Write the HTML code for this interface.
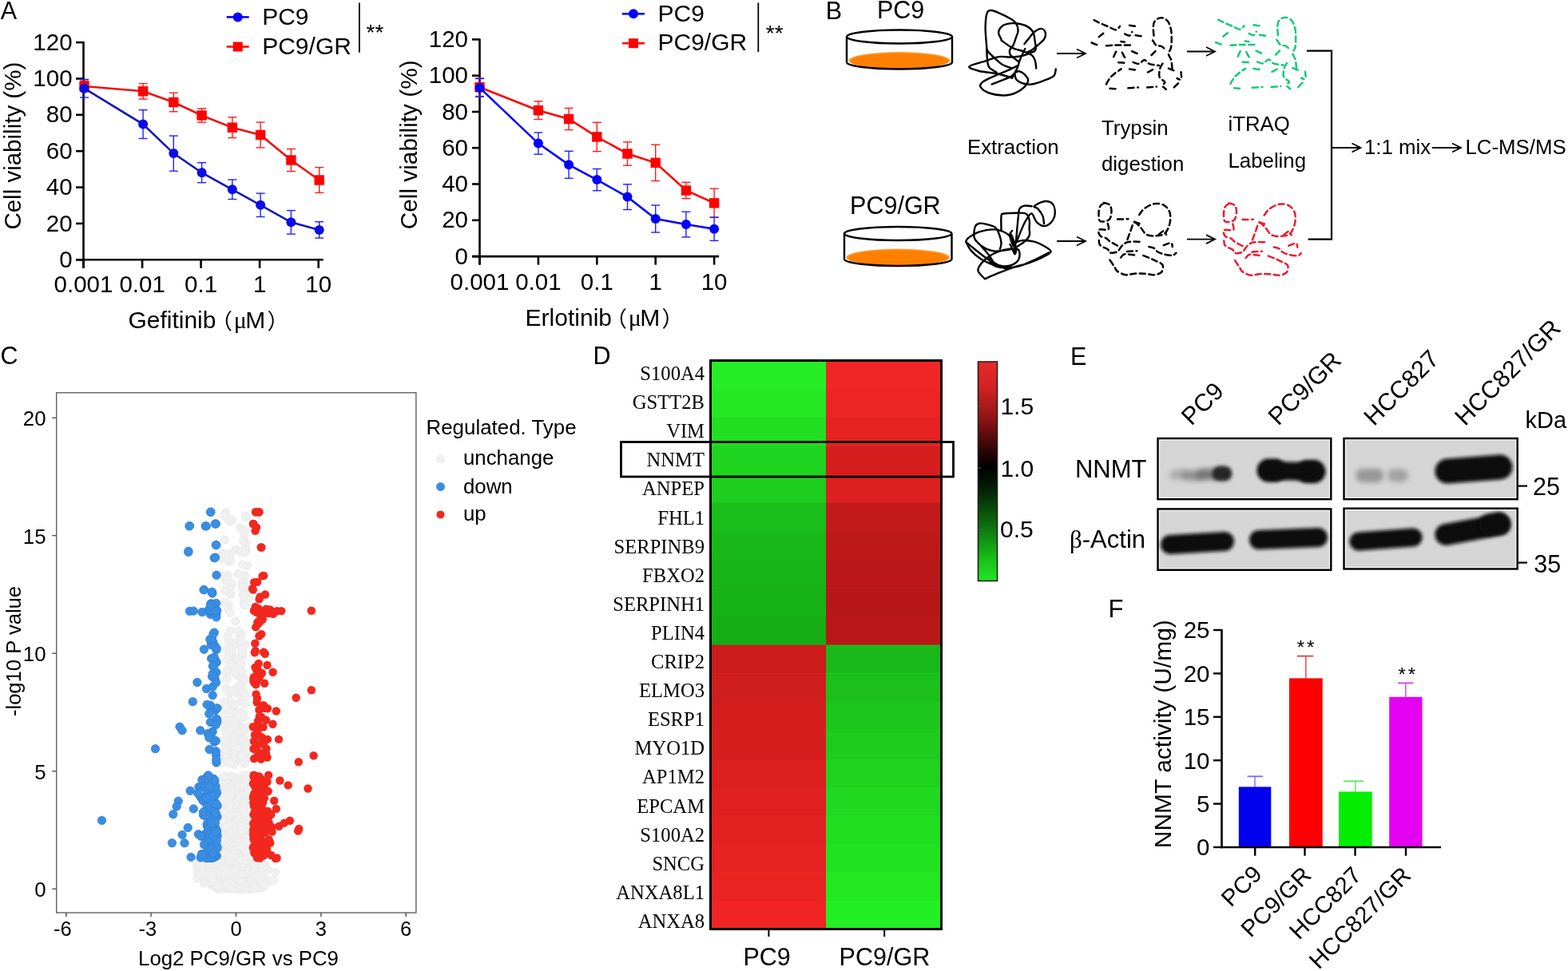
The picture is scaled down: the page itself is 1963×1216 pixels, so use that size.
<!DOCTYPE html>
<html><head><meta charset="utf-8"><title>Figure</title>
<style>html,body{margin:0;padding:0;background:#fff;overflow:hidden}svg{display:block}</style>
</head><body>
<svg width="1963" height="1216" viewBox="0 0 1963 1216">
<rect width="1963" height="1216" fill="#fff"/>
<text x="0.8" y="24" font-size="30.5" text-anchor="start" font-family="'Liberation Sans', Arial, sans-serif" >A</text>
<line x1="104.5" y1="52.1" x2="104.5" y2="335.8" stroke="#000" stroke-width="2.6" />
<line x1="95" y1="325.3" x2="404.7" y2="325.3" stroke="#000" stroke-width="2.6" />
<line x1="95" y1="325.3" x2="104.5" y2="325.3" stroke="#000" stroke-width="2.6" />
<text x="90.6" y="334.9" font-size="29.5" text-anchor="end" font-family="'Liberation Sans', Arial, sans-serif" >0</text>
<line x1="95" y1="279.9" x2="104.5" y2="279.9" stroke="#000" stroke-width="2.6" />
<text x="90.6" y="289.5" font-size="29.5" text-anchor="end" font-family="'Liberation Sans', Arial, sans-serif" >20</text>
<line x1="95" y1="234.6" x2="104.5" y2="234.6" stroke="#000" stroke-width="2.6" />
<text x="90.6" y="244.2" font-size="29.5" text-anchor="end" font-family="'Liberation Sans', Arial, sans-serif" >40</text>
<line x1="95" y1="189.2" x2="104.5" y2="189.2" stroke="#000" stroke-width="2.6" />
<text x="90.6" y="198.8" font-size="29.5" text-anchor="end" font-family="'Liberation Sans', Arial, sans-serif" >60</text>
<line x1="95" y1="143.8" x2="104.5" y2="143.8" stroke="#000" stroke-width="2.6" />
<text x="90.6" y="153.4" font-size="29.5" text-anchor="end" font-family="'Liberation Sans', Arial, sans-serif" >80</text>
<line x1="95" y1="98.5" x2="104.5" y2="98.5" stroke="#000" stroke-width="2.6" />
<text x="90.6" y="108.1" font-size="29.5" text-anchor="end" font-family="'Liberation Sans', Arial, sans-serif" >100</text>
<line x1="95" y1="53.1" x2="104.5" y2="53.1" stroke="#000" stroke-width="2.6" />
<text x="90.6" y="62.7" font-size="29.5" text-anchor="end" font-family="'Liberation Sans', Arial, sans-serif" >120</text>
<line x1="104.5" y1="325.3" x2="104.5" y2="335.8" stroke="#000" stroke-width="2.6" />
<text x="104.5" y="366.3" font-size="29.5" text-anchor="middle" font-family="'Liberation Sans', Arial, sans-serif" >0.001</text>
<line x1="178.1" y1="325.3" x2="178.1" y2="335.8" stroke="#000" stroke-width="2.6" />
<text x="178.1" y="366.3" font-size="29.5" text-anchor="middle" font-family="'Liberation Sans', Arial, sans-serif" >0.01</text>
<line x1="251.6" y1="325.3" x2="251.6" y2="335.8" stroke="#000" stroke-width="2.6" />
<text x="251.6" y="366.3" font-size="29.5" text-anchor="middle" font-family="'Liberation Sans', Arial, sans-serif" >0.1</text>
<line x1="325.1" y1="325.3" x2="325.1" y2="335.8" stroke="#000" stroke-width="2.6" />
<text x="325.1" y="366.3" font-size="29.5" text-anchor="middle" font-family="'Liberation Sans', Arial, sans-serif" >1</text>
<line x1="398.7" y1="325.3" x2="398.7" y2="335.8" stroke="#000" stroke-width="2.6" />
<text x="398.7" y="366.3" font-size="29.5" text-anchor="middle" font-family="'Liberation Sans', Arial, sans-serif" >10</text>
<line x1="105.5" y1="101.2" x2="105.5" y2="114.8" stroke="#ff1a1a" stroke-width="1.4" />
<line x1="100" y1="101.2" x2="111" y2="101.2" stroke="#ff1a1a" stroke-width="1.4" />
<line x1="100" y1="114.8" x2="111" y2="114.8" stroke="#ff1a1a" stroke-width="1.4" />
<line x1="179.1" y1="104.6" x2="179.1" y2="124.1" stroke="#ff1a1a" stroke-width="1.4" />
<line x1="173.6" y1="104.6" x2="184.6" y2="104.6" stroke="#ff1a1a" stroke-width="1.4" />
<line x1="173.6" y1="124.1" x2="184.6" y2="124.1" stroke="#ff1a1a" stroke-width="1.4" />
<line x1="217.3" y1="116.2" x2="217.3" y2="139.8" stroke="#ff1a1a" stroke-width="1.4" />
<line x1="211.8" y1="116.2" x2="222.8" y2="116.2" stroke="#ff1a1a" stroke-width="1.4" />
<line x1="211.8" y1="139.8" x2="222.8" y2="139.8" stroke="#ff1a1a" stroke-width="1.4" />
<line x1="252.6" y1="135.9" x2="252.6" y2="153.1" stroke="#ff1a1a" stroke-width="1.4" />
<line x1="247.1" y1="135.9" x2="258.1" y2="135.9" stroke="#ff1a1a" stroke-width="1.4" />
<line x1="247.1" y1="153.1" x2="258.1" y2="153.1" stroke="#ff1a1a" stroke-width="1.4" />
<line x1="290.8" y1="146.8" x2="290.8" y2="172.6" stroke="#ff1a1a" stroke-width="1.4" />
<line x1="285.3" y1="146.8" x2="296.3" y2="146.8" stroke="#ff1a1a" stroke-width="1.4" />
<line x1="285.3" y1="172.6" x2="296.3" y2="172.6" stroke="#ff1a1a" stroke-width="1.4" />
<line x1="326.1" y1="153.1" x2="326.1" y2="184.9" stroke="#ff1a1a" stroke-width="1.4" />
<line x1="320.6" y1="153.1" x2="331.6" y2="153.1" stroke="#ff1a1a" stroke-width="1.4" />
<line x1="320.6" y1="184.9" x2="331.6" y2="184.9" stroke="#ff1a1a" stroke-width="1.4" />
<line x1="364.4" y1="186.5" x2="364.4" y2="214.6" stroke="#ff1a1a" stroke-width="1.4" />
<line x1="358.9" y1="186.5" x2="369.9" y2="186.5" stroke="#ff1a1a" stroke-width="1.4" />
<line x1="358.9" y1="214.6" x2="369.9" y2="214.6" stroke="#ff1a1a" stroke-width="1.4" />
<line x1="399.7" y1="209.6" x2="399.7" y2="241.4" stroke="#ff1a1a" stroke-width="1.4" />
<line x1="394.2" y1="209.6" x2="405.2" y2="209.6" stroke="#ff1a1a" stroke-width="1.4" />
<line x1="394.2" y1="241.4" x2="405.2" y2="241.4" stroke="#ff1a1a" stroke-width="1.4" />
<line x1="105.5" y1="99.4" x2="105.5" y2="122.1" stroke="#2020ff" stroke-width="1.4" />
<line x1="100" y1="99.4" x2="111" y2="99.4" stroke="#2020ff" stroke-width="1.4" />
<line x1="100" y1="122.1" x2="111" y2="122.1" stroke="#2020ff" stroke-width="1.4" />
<line x1="179.1" y1="137.7" x2="179.1" y2="173.5" stroke="#2020ff" stroke-width="1.4" />
<line x1="173.6" y1="137.7" x2="184.6" y2="137.7" stroke="#2020ff" stroke-width="1.4" />
<line x1="173.6" y1="173.5" x2="184.6" y2="173.5" stroke="#2020ff" stroke-width="1.4" />
<line x1="217.3" y1="170.1" x2="217.3" y2="214.2" stroke="#2020ff" stroke-width="1.4" />
<line x1="211.8" y1="170.1" x2="222.8" y2="170.1" stroke="#2020ff" stroke-width="1.4" />
<line x1="211.8" y1="214.2" x2="222.8" y2="214.2" stroke="#2020ff" stroke-width="1.4" />
<line x1="252.6" y1="203.7" x2="252.6" y2="228.7" stroke="#2020ff" stroke-width="1.4" />
<line x1="247.1" y1="203.7" x2="258.1" y2="203.7" stroke="#2020ff" stroke-width="1.4" />
<line x1="247.1" y1="228.7" x2="258.1" y2="228.7" stroke="#2020ff" stroke-width="1.4" />
<line x1="290.8" y1="225" x2="290.8" y2="249.5" stroke="#2020ff" stroke-width="1.4" />
<line x1="285.3" y1="225" x2="296.3" y2="225" stroke="#2020ff" stroke-width="1.4" />
<line x1="285.3" y1="249.5" x2="296.3" y2="249.5" stroke="#2020ff" stroke-width="1.4" />
<line x1="326.1" y1="242.1" x2="326.1" y2="271.5" stroke="#2020ff" stroke-width="1.4" />
<line x1="320.6" y1="242.1" x2="331.6" y2="242.1" stroke="#2020ff" stroke-width="1.4" />
<line x1="320.6" y1="271.5" x2="331.6" y2="271.5" stroke="#2020ff" stroke-width="1.4" />
<line x1="364.4" y1="263.6" x2="364.4" y2="293.1" stroke="#2020ff" stroke-width="1.4" />
<line x1="358.9" y1="263.6" x2="369.9" y2="263.6" stroke="#2020ff" stroke-width="1.4" />
<line x1="358.9" y1="293.1" x2="369.9" y2="293.1" stroke="#2020ff" stroke-width="1.4" />
<line x1="399.7" y1="277.7" x2="399.7" y2="298.1" stroke="#2020ff" stroke-width="1.4" />
<line x1="394.2" y1="277.7" x2="405.2" y2="277.7" stroke="#2020ff" stroke-width="1.4" />
<line x1="394.2" y1="298.1" x2="405.2" y2="298.1" stroke="#2020ff" stroke-width="1.4" />
<polyline points="105.5,108 179.1,114.3 217.3,128 252.6,144.5 290.8,159.7 326.1,169 364.4,200.5 399.7,225.5" fill="none" stroke="#ee1010" stroke-width="2.6"/>
<rect x="99.3" y="101.8" width="12.4" height="12.4" fill="#ff0000"/>
<rect x="172.9" y="108.1" width="12.4" height="12.4" fill="#ff0000"/>
<rect x="211.1" y="121.8" width="12.4" height="12.4" fill="#ff0000"/>
<rect x="246.4" y="138.3" width="12.4" height="12.4" fill="#ff0000"/>
<rect x="284.6" y="153.5" width="12.4" height="12.4" fill="#ff0000"/>
<rect x="319.9" y="162.8" width="12.4" height="12.4" fill="#ff0000"/>
<rect x="358.2" y="194.3" width="12.4" height="12.4" fill="#ff0000"/>
<rect x="393.5" y="219.3" width="12.4" height="12.4" fill="#ff0000"/>
<polyline points="105.5,110.7 179.1,155.6 217.3,192.1 252.6,216.2 290.8,237.3 326.1,256.8 364.4,278.3 399.7,287.9" fill="none" stroke="#1616b8" stroke-width="2.6"/>
<circle cx="105.5" cy="110.7" r="6" fill="#0c0ce6"/>
<circle cx="179.1" cy="155.6" r="6" fill="#0c0ce6"/>
<circle cx="217.3" cy="192.1" r="6" fill="#0c0ce6"/>
<circle cx="252.6" cy="216.2" r="6" fill="#0c0ce6"/>
<circle cx="290.8" cy="237.3" r="6" fill="#0c0ce6"/>
<circle cx="326.1" cy="256.8" r="6" fill="#0c0ce6"/>
<circle cx="364.4" cy="278.3" r="6" fill="#0c0ce6"/>
<circle cx="399.7" cy="287.9" r="6" fill="#0c0ce6"/>
<line x1="283.7" y1="21.4" x2="311.7" y2="21.4" stroke="#0000ff" stroke-width="2.6" />
<circle cx="297.7" cy="21.4" r="6" fill="#0000ff"/>
<line x1="283.7" y1="58.5" x2="311.7" y2="58.5" stroke="#ff0000" stroke-width="2.6" />
<rect x="291.7" y="52.5" width="12" height="12" fill="#ff0000"/>
<text x="328.2" y="31" font-size="30" text-anchor="start" font-family="'Liberation Sans', Arial, sans-serif" >PC9</text>
<text x="328.2" y="67.5" font-size="30" text-anchor="start" font-family="'Liberation Sans', Arial, sans-serif" >PC9/GR</text>
<line x1="449.9" y1="3.5" x2="449.9" y2="65.8" stroke="#000" stroke-width="1.8" />
<text x="458.5" y="50.3" font-size="28" text-anchor="start" font-family="'Liberation Sans', Arial, sans-serif" >**</text>
<text x="160.4" y="411" font-size="30" text-anchor="start" font-family="'Liberation Sans', Arial, sans-serif" >Gefitinib</text>
<text x="264.1" y="411.5" font-size="27" font-family="'Noto Sans CJK SC', sans-serif">（</text>
<text x="292.8" y="411" font-size="30" font-family="'Liberation Serif', serif">μ</text>
<text x="307.3" y="411" font-size="30" text-anchor="start" font-family="'Liberation Sans', Arial, sans-serif" >M</text>
<text x="334.5" y="411.5" font-size="27" font-family="'Noto Sans CJK SC', sans-serif">）</text>
<text transform="translate(26.3,287.6) rotate(-90)" x="0" y="0" font-size="29.5" font-family="'Liberation Sans', Arial, sans-serif">Cell viability (%)</text>
<line x1="600.5" y1="48.4" x2="600.5" y2="331.6" stroke="#000" stroke-width="2.6" />
<line x1="591" y1="321.1" x2="900.1" y2="321.1" stroke="#000" stroke-width="2.6" />
<line x1="591" y1="321.1" x2="600.5" y2="321.1" stroke="#000" stroke-width="2.6" />
<text x="586" y="330.7" font-size="29.5" text-anchor="end" font-family="'Liberation Sans', Arial, sans-serif" >0</text>
<line x1="591" y1="275.8" x2="600.5" y2="275.8" stroke="#000" stroke-width="2.6" />
<text x="586" y="285.4" font-size="29.5" text-anchor="end" font-family="'Liberation Sans', Arial, sans-serif" >20</text>
<line x1="591" y1="230.5" x2="600.5" y2="230.5" stroke="#000" stroke-width="2.6" />
<text x="586" y="240.1" font-size="29.5" text-anchor="end" font-family="'Liberation Sans', Arial, sans-serif" >40</text>
<line x1="591" y1="185.2" x2="600.5" y2="185.2" stroke="#000" stroke-width="2.6" />
<text x="586" y="194.8" font-size="29.5" text-anchor="end" font-family="'Liberation Sans', Arial, sans-serif" >60</text>
<line x1="591" y1="140" x2="600.5" y2="140" stroke="#000" stroke-width="2.6" />
<text x="586" y="149.6" font-size="29.5" text-anchor="end" font-family="'Liberation Sans', Arial, sans-serif" >80</text>
<line x1="591" y1="94.7" x2="600.5" y2="94.7" stroke="#000" stroke-width="2.6" />
<text x="586" y="104.3" font-size="29.5" text-anchor="end" font-family="'Liberation Sans', Arial, sans-serif" >100</text>
<line x1="591" y1="49.4" x2="600.5" y2="49.4" stroke="#000" stroke-width="2.6" />
<text x="586" y="59" font-size="29.5" text-anchor="end" font-family="'Liberation Sans', Arial, sans-serif" >120</text>
<line x1="600.5" y1="321.1" x2="600.5" y2="331.6" stroke="#000" stroke-width="2.6" />
<text x="600.5" y="362.8" font-size="29.5" text-anchor="middle" font-family="'Liberation Sans', Arial, sans-serif" >0.001</text>
<line x1="673.9" y1="321.1" x2="673.9" y2="331.6" stroke="#000" stroke-width="2.6" />
<text x="673.9" y="362.8" font-size="29.5" text-anchor="middle" font-family="'Liberation Sans', Arial, sans-serif" >0.01</text>
<line x1="747.3" y1="321.1" x2="747.3" y2="331.6" stroke="#000" stroke-width="2.6" />
<text x="747.3" y="362.8" font-size="29.5" text-anchor="middle" font-family="'Liberation Sans', Arial, sans-serif" >0.1</text>
<line x1="820.7" y1="321.1" x2="820.7" y2="331.6" stroke="#000" stroke-width="2.6" />
<text x="820.7" y="362.8" font-size="29.5" text-anchor="middle" font-family="'Liberation Sans', Arial, sans-serif" >1</text>
<line x1="894.1" y1="321.1" x2="894.1" y2="331.6" stroke="#000" stroke-width="2.6" />
<text x="894.1" y="362.8" font-size="29.5" text-anchor="middle" font-family="'Liberation Sans', Arial, sans-serif" >10</text>
<line x1="600.5" y1="97.9" x2="600.5" y2="120.5" stroke="#ff1a1a" stroke-width="1.4" />
<line x1="595" y1="97.9" x2="606" y2="97.9" stroke="#ff1a1a" stroke-width="1.4" />
<line x1="595" y1="120.5" x2="606" y2="120.5" stroke="#ff1a1a" stroke-width="1.4" />
<line x1="673.9" y1="126.8" x2="673.9" y2="149.5" stroke="#ff1a1a" stroke-width="1.4" />
<line x1="668.4" y1="126.8" x2="679.4" y2="126.8" stroke="#ff1a1a" stroke-width="1.4" />
<line x1="668.4" y1="149.5" x2="679.4" y2="149.5" stroke="#ff1a1a" stroke-width="1.4" />
<line x1="712.1" y1="135.4" x2="712.1" y2="162.6" stroke="#ff1a1a" stroke-width="1.4" />
<line x1="706.6" y1="135.4" x2="717.6" y2="135.4" stroke="#ff1a1a" stroke-width="1.4" />
<line x1="706.6" y1="162.6" x2="717.6" y2="162.6" stroke="#ff1a1a" stroke-width="1.4" />
<line x1="747.3" y1="153.3" x2="747.3" y2="189.6" stroke="#ff1a1a" stroke-width="1.4" />
<line x1="741.8" y1="153.3" x2="752.8" y2="153.3" stroke="#ff1a1a" stroke-width="1.4" />
<line x1="741.8" y1="189.6" x2="752.8" y2="189.6" stroke="#ff1a1a" stroke-width="1.4" />
<line x1="785.5" y1="177.8" x2="785.5" y2="207.2" stroke="#ff1a1a" stroke-width="1.4" />
<line x1="780" y1="177.8" x2="791" y2="177.8" stroke="#ff1a1a" stroke-width="1.4" />
<line x1="780" y1="207.2" x2="791" y2="207.2" stroke="#ff1a1a" stroke-width="1.4" />
<line x1="820.7" y1="181.2" x2="820.7" y2="226.5" stroke="#ff1a1a" stroke-width="1.4" />
<line x1="815.2" y1="181.2" x2="826.2" y2="181.2" stroke="#ff1a1a" stroke-width="1.4" />
<line x1="815.2" y1="226.5" x2="826.2" y2="226.5" stroke="#ff1a1a" stroke-width="1.4" />
<line x1="858.9" y1="228.3" x2="858.9" y2="248.6" stroke="#ff1a1a" stroke-width="1.4" />
<line x1="853.4" y1="228.3" x2="864.4" y2="228.3" stroke="#ff1a1a" stroke-width="1.4" />
<line x1="853.4" y1="248.6" x2="864.4" y2="248.6" stroke="#ff1a1a" stroke-width="1.4" />
<line x1="894.1" y1="236.2" x2="894.1" y2="272.4" stroke="#ff1a1a" stroke-width="1.4" />
<line x1="888.6" y1="236.2" x2="899.6" y2="236.2" stroke="#ff1a1a" stroke-width="1.4" />
<line x1="888.6" y1="272.4" x2="899.6" y2="272.4" stroke="#ff1a1a" stroke-width="1.4" />
<line x1="600.5" y1="98.5" x2="600.5" y2="121.2" stroke="#2020ff" stroke-width="1.4" />
<line x1="595" y1="98.5" x2="606" y2="98.5" stroke="#2020ff" stroke-width="1.4" />
<line x1="595" y1="121.2" x2="606" y2="121.2" stroke="#2020ff" stroke-width="1.4" />
<line x1="673.9" y1="166" x2="673.9" y2="193.2" stroke="#2020ff" stroke-width="1.4" />
<line x1="668.4" y1="166" x2="679.4" y2="166" stroke="#2020ff" stroke-width="1.4" />
<line x1="668.4" y1="193.2" x2="679.4" y2="193.2" stroke="#2020ff" stroke-width="1.4" />
<line x1="712.1" y1="189.3" x2="712.1" y2="223.3" stroke="#2020ff" stroke-width="1.4" />
<line x1="706.6" y1="189.3" x2="717.6" y2="189.3" stroke="#2020ff" stroke-width="1.4" />
<line x1="706.6" y1="223.3" x2="717.6" y2="223.3" stroke="#2020ff" stroke-width="1.4" />
<line x1="747.3" y1="211.5" x2="747.3" y2="238.7" stroke="#2020ff" stroke-width="1.4" />
<line x1="741.8" y1="211.5" x2="752.8" y2="211.5" stroke="#2020ff" stroke-width="1.4" />
<line x1="741.8" y1="238.7" x2="752.8" y2="238.7" stroke="#2020ff" stroke-width="1.4" />
<line x1="785.5" y1="230.8" x2="785.5" y2="262.5" stroke="#2020ff" stroke-width="1.4" />
<line x1="780" y1="230.8" x2="791" y2="230.8" stroke="#2020ff" stroke-width="1.4" />
<line x1="780" y1="262.5" x2="791" y2="262.5" stroke="#2020ff" stroke-width="1.4" />
<line x1="820.7" y1="257" x2="820.7" y2="291" stroke="#2020ff" stroke-width="1.4" />
<line x1="815.2" y1="257" x2="826.2" y2="257" stroke="#2020ff" stroke-width="1.4" />
<line x1="815.2" y1="291" x2="826.2" y2="291" stroke="#2020ff" stroke-width="1.4" />
<line x1="858.9" y1="265.2" x2="858.9" y2="296.9" stroke="#2020ff" stroke-width="1.4" />
<line x1="853.4" y1="265.2" x2="864.4" y2="265.2" stroke="#2020ff" stroke-width="1.4" />
<line x1="853.4" y1="296.9" x2="864.4" y2="296.9" stroke="#2020ff" stroke-width="1.4" />
<line x1="894.1" y1="272" x2="894.1" y2="301.4" stroke="#2020ff" stroke-width="1.4" />
<line x1="888.6" y1="272" x2="899.6" y2="272" stroke="#2020ff" stroke-width="1.4" />
<line x1="888.6" y1="301.4" x2="899.6" y2="301.4" stroke="#2020ff" stroke-width="1.4" />
<polyline points="600.5,109.2 673.9,138.2 712.1,149 747.3,171.4 785.5,192.5 820.7,203.8 858.9,238.5 894.1,254.3" fill="none" stroke="#ff0000" stroke-width="2.6"/>
<rect x="594.3" y="103" width="12.4" height="12.4" fill="#ff0000"/>
<rect x="667.7" y="132" width="12.4" height="12.4" fill="#ff0000"/>
<rect x="705.9" y="142.8" width="12.4" height="12.4" fill="#ff0000"/>
<rect x="741.1" y="165.2" width="12.4" height="12.4" fill="#ff0000"/>
<rect x="779.3" y="186.3" width="12.4" height="12.4" fill="#ff0000"/>
<rect x="814.5" y="197.6" width="12.4" height="12.4" fill="#ff0000"/>
<rect x="852.7" y="232.3" width="12.4" height="12.4" fill="#ff0000"/>
<rect x="887.9" y="248.1" width="12.4" height="12.4" fill="#ff0000"/>
<polyline points="600.5,109.9 673.9,179.6 712.1,206.3 747.3,225.1 785.5,246.6 820.7,274 858.9,281 894.1,286.7" fill="none" stroke="#0000ff" stroke-width="2.6"/>
<circle cx="600.5" cy="109.9" r="6" fill="#0000ff"/>
<circle cx="673.9" cy="179.6" r="6" fill="#0000ff"/>
<circle cx="712.1" cy="206.3" r="6" fill="#0000ff"/>
<circle cx="747.3" cy="225.1" r="6" fill="#0000ff"/>
<circle cx="785.5" cy="246.6" r="6" fill="#0000ff"/>
<circle cx="820.7" cy="274" r="6" fill="#0000ff"/>
<circle cx="858.9" cy="281" r="6" fill="#0000ff"/>
<circle cx="894.1" cy="286.7" r="6" fill="#0000ff"/>
<line x1="779" y1="17.3" x2="807" y2="17.3" stroke="#0000ff" stroke-width="2.6" />
<circle cx="793" cy="17.3" r="6" fill="#0000ff"/>
<line x1="779" y1="54.2" x2="807" y2="54.2" stroke="#ff0000" stroke-width="2.6" />
<rect x="787" y="48.2" width="12" height="12" fill="#ff0000"/>
<text x="823.5" y="26.9" font-size="30" text-anchor="start" font-family="'Liberation Sans', Arial, sans-serif" >PC9</text>
<text x="823.5" y="63.2" font-size="30" text-anchor="start" font-family="'Liberation Sans', Arial, sans-serif" >PC9/GR</text>
<line x1="949.3" y1="3.5" x2="949.3" y2="65" stroke="#000" stroke-width="1.8" />
<text x="958.8" y="50.8" font-size="28" text-anchor="start" font-family="'Liberation Sans', Arial, sans-serif" >**</text>
<text x="657.6" y="408" font-size="30" text-anchor="start" font-family="'Liberation Sans', Arial, sans-serif" >Erlotinib</text>
<text x="758.1" y="408.5" font-size="27" font-family="'Noto Sans CJK SC', sans-serif">（</text>
<text x="786.8" y="408" font-size="30" font-family="'Liberation Serif', serif">μ</text>
<text x="801.3" y="408" font-size="30" text-anchor="start" font-family="'Liberation Sans', Arial, sans-serif" >M</text>
<text x="828.5" y="408.5" font-size="27" font-family="'Noto Sans CJK SC', sans-serif">）</text>
<text transform="translate(521.6,287.3) rotate(-90)" x="0" y="0" font-size="29.8" font-family="'Liberation Sans', Arial, sans-serif">Cell viability (%)</text>
<text x="1033.7" y="23.9" font-size="30.5" text-anchor="start" font-family="'Liberation Sans', Arial, sans-serif" >B</text>
<text x="1098" y="22.6" font-size="30.5" text-anchor="start" font-family="'Liberation Sans', Arial, sans-serif" >PC9</text>
<text x="1064.1" y="268.4" font-size="30.5" text-anchor="start" font-family="'Liberation Sans', Arial, sans-serif" >PC9/GR</text>
<ellipse cx="1126" cy="75.8" rx="63.5" ry="10.7" fill="#ff9a2a"/>
<ellipse cx="1126" cy="76.4" rx="61" ry="9.7" fill="#ff8000"/>
<path d="M1060,46 L1060,78 A66,8.5 0 0 0 1192,78 L1192,46" fill="none" stroke="#000" stroke-width="2.4"/>
<ellipse cx="1126" cy="46" rx="66" ry="8.5" fill="none" stroke="#000" stroke-width="2.4"/>
<ellipse cx="1124.2" cy="322.3" rx="64.8" ry="10.7" fill="#ff9a2a"/>
<ellipse cx="1124.2" cy="322.9" rx="62.2" ry="9.7" fill="#ff8000"/>
<path d="M1057,292.5 L1057,324.5 A67.2,8.5 0 0 0 1191.5,324.5 L1191.5,292.5" fill="none" stroke="#000" stroke-width="2.4"/>
<ellipse cx="1124.2" cy="292.5" rx="67.2" ry="8.5" fill="none" stroke="#000" stroke-width="2.4"/>
<path d="M1235.2,58.1 C1234.9,54.3 1233.6,42 1233.6,35.2 C1233.7,28.3 1234.2,20.5 1235.5,16.8 C1236.7,13.1 1238.3,12.9 1241.3,13 C1244.3,13.1 1249.7,15.9 1253.5,17.6 C1257.3,19.2 1261.1,21 1264.2,22.9 C1267.2,24.8 1270.1,26.5 1271.8,29 C1273.6,31.6 1274.6,35.2 1274.6,38.2 C1274.6,41.3 1272.9,44.3 1271.8,47.4 C1270.8,50.4 1269.7,54 1268.5,56.5 C1267.2,59.1 1264.8,60.6 1264.2,62.7 C1263.6,64.7 1263.9,67 1265,68.8 C1266,70.6 1268.6,72 1270.3,73.4 C1272,74.8 1274.4,76.5 1275.2,77.2 M1253.5,48.9 C1252.9,47.6 1250.1,43.5 1250.1,41 C1250.1,38.4 1251.7,35.5 1253.5,33.6 C1255.3,31.8 1257.8,30.5 1261.1,29.8 C1264.4,29.1 1269.3,29 1273.4,29.5 C1277.4,30 1282.3,31.1 1285.6,32.9 C1288.9,34.6 1291.6,37.1 1293.2,40 C1294.9,43 1295,46.8 1295.5,50.4 C1296.1,54.1 1297.2,59.4 1296.6,61.9 C1296,64.4 1294.6,64.4 1291.7,65.7 C1288.8,67.1 1283.8,69 1279.5,70 C1275.1,71 1270.6,71.3 1265.7,71.5 C1260.9,71.7 1255.8,70.3 1250.4,71.1 C1245.1,71.9 1239.8,74.4 1233.6,76.4 C1227.5,78.5 1214.7,81.2 1213.4,83.3 C1212.2,85.4 1220.1,87.4 1226,89 C1231.9,90.5 1242,91 1248.9,92.5 C1255.8,93.9 1264.2,96.7 1267.2,97.5 M1282.5,55 C1283.5,53.7 1286.6,49.9 1288.6,47.4 C1290.7,44.9 1292.2,42 1294.8,40 C1297.3,38.1 1301.6,35.7 1303.9,35.9 C1306.3,36.1 1308.3,39 1308.8,41.3 C1309.3,43.5 1308.6,46.7 1307,49.2 C1305.4,51.8 1301.9,54.3 1299.3,56.5 C1296.8,58.8 1294,61.1 1291.7,62.7 C1289.4,64.2 1286.6,65.2 1285.6,65.7 M1297.2,85.6 C1297,84.1 1296.9,79.2 1296,76.4 C1295.1,73.7 1294.2,71.1 1291.7,69.1 C1289.2,67 1285.1,65.7 1281,64.2 C1276.9,62.7 1271.8,62.2 1267.2,59.9 C1262.7,57.6 1255.8,52 1253.5,50.4 M1235.2,58.1 C1235.4,59.1 1234.9,61.6 1236.7,64.2 C1238.5,66.7 1242.8,70.6 1245.9,73.4 C1248.9,76.2 1251.5,79 1255,81 C1258.6,83 1265.2,84.8 1267.2,85.6 M1241.6,105.5 C1243.6,104.7 1249.2,102.7 1253.5,100.9 C1257.8,99.1 1263.9,97.3 1267.2,94.8 C1270.6,92.2 1271.8,88.6 1273.4,85.6 C1274.9,82.5 1275.4,79.2 1276.4,76.4 C1277.4,73.6 1278.3,71.3 1279.5,68.8 C1280.6,66.2 1282.7,62.4 1283.3,61.1 M1267.2,97.8 C1267.8,96.8 1268.8,93.1 1270.3,91.7 C1271.8,90.3 1274.1,88.8 1276.4,89.4 C1278.8,90 1282.6,93.1 1284.4,95.1 C1286.1,97 1287.4,98.9 1287.1,101.2 C1286.8,103.5 1285.1,106.3 1282.5,108.8 C1280,111.3 1276.2,114.4 1271.8,116.2 C1267.5,117.9 1262.2,119.5 1256.5,119.5 C1250.9,119.6 1243,118.2 1238.2,116.5 C1233.4,114.7 1228.8,111.2 1227.5,108.8 C1226.2,106.5 1227.5,104.7 1230.6,102.4 C1233.6,100.1 1240.2,97.3 1245.9,94.8 C1251.5,92.2 1259.6,89.2 1264.2,87.1 C1268.8,85.1 1271.8,83.3 1273.4,82.5 M1270.3,91.7 C1270.6,93 1270.6,97.3 1272.1,99.3 C1273.7,101.4 1276.2,103.2 1279.5,104.2 C1282.7,105.3 1287.1,106 1291.7,105.5 C1296.3,104.9 1302.4,102.6 1307,100.9 C1311.6,99.1 1316.7,97.5 1319.2,95.1 C1321.7,92.6 1321.4,87.8 1321.8,86.4 M1235.2,58.1 C1235.3,60.6 1235.4,69 1235.9,73.4 C1236.4,77.7 1236.3,81.2 1238.2,84.1 C1240.1,86.9 1245.9,89.4 1247.4,90.5" fill="none" stroke="#000" stroke-width="2.4" stroke-linecap="round" stroke-linejoin="round"/>
<path d="M1232.9,349.3 C1231.5,347.6 1225.2,342.5 1224.5,339.3 C1223.7,336.2 1226,333.2 1228.3,330.2 C1230.6,327.1 1234.5,323.5 1238.2,321 C1241.9,318.5 1246.1,316.4 1250.4,314.9 C1254.8,313.4 1260.4,312.3 1264.2,311.8 C1268,311.3 1271.3,311.1 1273.4,311.8 C1275.4,312.6 1276.2,314.1 1276.4,316.4 C1276.7,318.7 1276.4,323 1274.9,325.6 C1273.4,328.1 1270.6,330.4 1267.2,331.7 C1263.9,333 1258.8,333.7 1255,333.2 C1251.2,332.7 1247.1,330.9 1244.3,328.6 C1241.5,326.4 1241,323 1238.2,319.5 C1235.4,315.9 1230.6,310.8 1227.5,307.2 C1224.5,303.7 1221,301.9 1219.9,298.1 C1218.7,294.3 1219.6,287.4 1220.6,284.3 C1221.7,281.3 1223.3,280.2 1226,279.7 C1228.7,279.2 1233.4,280.5 1236.7,281.3 C1240,282.1 1243.6,282.8 1245.9,284.6 C1248.1,286.4 1249.2,288.7 1250.4,292 C1251.7,295.2 1253.2,300.9 1253.5,304.2 C1253.7,307.5 1252.2,310.6 1252,311.8 M1209.2,302.7 C1209.7,301.9 1209.4,300.1 1212.2,298.1 C1215,296 1220.6,292.2 1226,290.4 C1231.3,288.7 1238.7,287.1 1244.3,287.4 C1249.9,287.6 1255.8,289.9 1259.6,292 C1263.4,294 1265.5,297.1 1267.2,299.6 C1269,302.2 1269.8,304.2 1270.3,307.2 C1270.8,310.3 1270.3,316.2 1270.3,317.9 M1232.9,349.3 C1235.5,348.1 1242.9,344.8 1248.9,342.4 C1254.9,340 1262.7,336.8 1268.8,334.8 C1274.9,332.7 1280.2,332 1285.6,330.2 C1290.9,328.4 1296.3,326.1 1300.9,324.1 C1305.5,322 1310.8,319.7 1313.1,317.9 C1315.4,316.2 1316.2,315.4 1314.9,313.7 C1313.7,311.9 1308.8,309.1 1305.5,307.2 C1302.1,305.4 1299.1,303.7 1294.8,302.7 C1290.4,301.6 1283.5,300.9 1279.5,301.1 C1275.4,301.4 1271.8,303.7 1270.3,304.2 M1209.2,302.7 C1210.2,304.4 1212.2,309.8 1215.3,313.4 C1218.3,316.9 1223.4,321.3 1227.5,324.1 C1231.6,326.9 1235.4,328.4 1239.7,330.2 C1244.1,332 1249.4,334 1253.5,334.8 C1257.6,335.5 1260.4,335 1264.2,334.8 C1268,334.5 1271.3,334.8 1276.4,333.2 C1281.5,331.7 1288.6,328.4 1294.8,325.6 C1300.9,322.8 1310,317.9 1313.1,316.4 M1253.5,288.9 C1253.5,285.9 1253,274.1 1253.5,270.6 C1254,267 1253.2,268.1 1256.5,267.5 C1259.9,266.9 1268.8,266.7 1273.4,266.7 C1277.9,266.7 1281.5,266.1 1284.1,267.5 C1286.6,268.9 1287.9,272.1 1288.6,275.2 C1289.4,278.2 1288.6,282.5 1288.6,285.9 C1288.6,289.2 1289.7,292.2 1288.6,295 C1287.6,297.8 1285.1,300.4 1282.5,302.7 C1280,305 1274.9,307.8 1273.4,308.8 M1271.8,304.2 C1272.1,301.1 1272.9,291.5 1273.4,285.9 C1273.9,280.2 1274.4,274.6 1274.9,270.6 C1275.4,266.5 1275.1,263.6 1276.4,261.4 C1277.7,259.2 1280,258.1 1282.5,257.6 C1285.1,257.1 1290.2,258.2 1291.7,258.3 M1307,280 C1306.7,278.5 1306.7,273.7 1305.5,270.6 C1304.2,267.5 1301.1,263.4 1299.3,261.4 C1297.6,259.4 1293.5,259.9 1294.8,258.3 C1296,256.8 1303.2,252.7 1307,252.2 C1310.8,251.7 1315.4,252.7 1317.7,255.3 C1320,257.8 1321,263.7 1320.7,267.5 C1320.5,271.3 1318.4,275.6 1316.2,278.2 C1313.9,280.8 1310,283.1 1307,283.1 C1303.9,283.1 1300.4,280.8 1297.8,278.2 C1295.3,275.6 1293.7,268.2 1291.7,267.5 C1289.7,266.8 1287.6,270.9 1285.6,273.9 C1283.5,277 1281.5,281.3 1279.5,285.9 C1277.4,290.4 1275,297.3 1273.4,301.1 C1271.7,305 1270.2,307.5 1269.5,308.8 M1267.2,288.9 C1266.7,289.7 1264.4,291.5 1264.2,293.5 C1263.9,295.5 1264.9,298.6 1265.7,301.1 C1266.5,303.7 1268.5,307.5 1269.1,308.8 M1210.7,304.2 C1212.2,305.5 1216.6,309.2 1219.9,311.8 C1223.2,314.5 1227.4,317.8 1230.6,320.2 C1233.8,322.7 1236.3,324.4 1239,326.4 C1241.6,328.3 1243.4,330.1 1246.6,331.7 C1249.8,333.3 1254.8,335.4 1258.1,336 C1261.3,336.5 1264.7,335.2 1266,335.1 M1238.5,321.3 C1238.8,322.6 1238.8,326.9 1240,329 C1241.3,331 1243.9,332.5 1246.2,333.5 C1248.4,334.6 1252.5,334.8 1253.8,335.1 M1266,293.8 C1266.5,295.1 1268.1,298.6 1269.1,301.4 C1270.1,304.2 1271.9,307.8 1272.1,310.6 C1272.4,313.4 1271.4,318 1270.6,318.3 C1269.8,318.5 1268.6,314.2 1267.6,312.1 C1266.5,310.1 1265,307 1264.5,306 M1227.5,307.2 C1228.8,308 1232.1,310.6 1235.2,311.8 C1238.2,313.1 1242,314.3 1245.9,314.6 C1249.7,314.8 1254.5,313.8 1258.1,313.4 C1261.6,312.9 1265.7,312.1 1267.2,311.8" fill="none" stroke="#000" stroke-width="2.4" stroke-linecap="round" stroke-linejoin="round"/>
<path d="M1369.6,25.2 C1370.9,25.9 1374.2,27.6 1377.3,29 C1380.3,30.4 1384.7,32.2 1388,33.6 C1391.3,35 1394.8,37.6 1397.2,37.4 C1399.5,37.3 1401.2,33.6 1402,32.9 M1375.8,46.2 C1377,45.1 1382.1,41.1 1383.4,40 M1366.6,53.5 C1367.7,54 1372.3,55.8 1373.5,56.2 M1384.9,57.3 C1386.7,57.2 1392.3,56.7 1395.6,56.5 C1398.9,56.4 1400.9,56.5 1404.8,56.5 C1408.7,56.5 1416.5,56.5 1418.9,56.5 M1414,31.8 C1415.5,32 1421.9,32.8 1423.4,33 M1408.2,42.5 C1409.1,42.8 1412.4,45 1414,44.6 C1415.5,44.2 1416.8,40.8 1417.3,40 M1421.6,44.3 C1423.4,44.6 1430.8,45.6 1432.6,45.9 M1444.5,44.6 C1444.4,42.8 1443.5,36.7 1443.8,33.6 C1444,30.5 1444.4,27.9 1446.1,26 C1447.7,24.1 1451.1,22.1 1453.7,22.2 C1456.3,22.2 1459.6,23.9 1461.7,26.3 C1463.7,28.7 1465.1,32.9 1465.9,36.7 C1466.8,40.5 1466.7,45 1466.7,48.9 C1466.7,52.8 1466.6,56.8 1465.9,59.9 C1465.3,63 1462.8,65 1462.9,67.6 C1462.9,70.1 1465.5,72.1 1466.2,75.2 C1467,78.3 1467.3,84.1 1467.5,85.9 M1443,50.4 C1443.8,51.5 1445.8,55.6 1447.6,56.9 C1449.4,58.1 1451.7,56.8 1453.7,57.8 C1455.7,58.7 1458.8,61.8 1459.8,62.7 M1394.1,71.1 C1394.7,69.9 1396.9,65.3 1397.5,64.2 M1404.8,65.7 C1405.4,66.8 1407.6,71.1 1408.2,72.1 M1417,64.2 C1418.6,64.9 1424.9,67.6 1426.5,68.3 M1400.2,78.3 C1402,78.4 1409.1,78.8 1410.9,78.9 M1418.6,77.9 C1419.8,78.3 1423.9,80.3 1426.2,79.8 C1428.5,79.3 1430.5,74.9 1432.6,74.9 C1434.7,74.9 1435.7,78.6 1438.7,79.8 C1441.8,81 1448.9,81.7 1451,82.1 M1455.5,79.5 C1455,80.5 1452.8,83 1452.2,85.9 C1451.5,88.7 1450.5,93.8 1451.6,96.6 C1452.6,99.4 1457.7,100.9 1458.3,102.7 C1458.9,104.5 1455,105.8 1455.2,107.3 C1455.5,108.8 1459.1,111.1 1459.8,111.9 M1441.5,69.1 C1442.3,68.3 1445.6,65 1446.4,64.2 M1384.9,105.5 C1385.7,104.2 1387.7,100.1 1389.5,97.8 C1391.3,95.5 1393.6,93.6 1395.9,91.7 C1398.3,89.8 1402.3,87.2 1403.6,86.4 M1414,86.4 C1415.8,86.6 1423.1,87.8 1425,88 M1436.9,90.5 C1438,89.9 1442.2,87.7 1443.3,87.1 M1389.5,110.8 C1391.3,110.9 1398.7,111.4 1400.5,111.6 M1412.4,110.3 C1414.5,110.2 1422.9,109.6 1425,109.4 M1436.1,109.4 C1438.1,109.3 1445.9,108.7 1447.9,108.5 M1462.9,85.6 C1463.9,86 1468.2,87.8 1469.3,88.2 M1473.6,98.1 C1474.1,98.4 1476.4,99.4 1476.9,99.6 M1478.5,90.2 C1478.6,91.2 1479,95.5 1479.1,96.6 M1469.8,109.4 C1470.7,108.5 1474.5,104.8 1475.4,103.9 M1403.3,52 C1404,52.1 1407.1,52.6 1407.9,52.7" fill="none" stroke="#000" stroke-width="2.5" stroke-linecap="round" stroke-linejoin="round" stroke-dasharray="7 4.5"/>
<path d="M1525.1,24.7 C1526.4,25.4 1529.7,27.1 1532.8,28.5 C1535.8,29.9 1540.2,31.7 1543.5,33.1 C1546.8,34.5 1550.3,37.1 1552.7,36.9 C1555,36.8 1556.7,33.1 1557.5,32.4 M1531.3,45.7 C1532.5,44.6 1537.6,40.6 1538.9,39.5 M1522.1,53 C1523.2,53.5 1527.8,55.3 1529,55.7 M1540.4,56.8 C1542.2,56.7 1547.8,56.2 1551.1,56 C1554.4,55.9 1556.4,56 1560.3,56 C1564.2,56 1572,56 1574.4,56 M1569.5,31.3 C1571,31.5 1577.4,32.3 1578.9,32.5 M1563.7,42 C1564.6,42.3 1567.9,44.5 1569.5,44.1 C1571,43.7 1572.3,40.3 1572.8,39.5 M1577.1,43.8 C1578.9,44.1 1586.3,45.1 1588.1,45.4 M1600,44.1 C1599.9,42.3 1599,36.2 1599.3,33.1 C1599.5,30 1599.9,27.4 1601.6,25.5 C1603.2,23.6 1606.6,21.6 1609.2,21.7 C1611.8,21.7 1615.1,23.4 1617.2,25.8 C1619.2,28.2 1620.6,32.4 1621.4,36.2 C1622.3,40 1622.2,44.5 1622.2,48.4 C1622.2,52.3 1622.1,56.3 1621.4,59.4 C1620.8,62.5 1618.3,64.5 1618.4,67.1 C1618.4,69.6 1621,71.6 1621.7,74.7 C1622.5,77.8 1622.8,83.6 1623,85.4 M1598.5,49.9 C1599.3,51 1601.3,55.1 1603.1,56.4 C1604.9,57.6 1607.2,56.3 1609.2,57.3 C1611.2,58.2 1614.3,61.3 1615.3,62.2 M1549.6,70.6 C1550.2,69.4 1552.4,64.8 1553,63.7 M1560.3,65.2 C1560.9,66.3 1563.1,70.6 1563.7,71.6 M1572.5,63.7 C1574.1,64.4 1580.4,67.1 1582,67.8 M1555.7,77.8 C1557.5,77.9 1564.6,78.3 1566.4,78.4 M1574.1,77.4 C1575.3,77.8 1579.4,79.8 1581.7,79.3 C1584,78.8 1586,74.4 1588.1,74.4 C1590.2,74.4 1591.2,78.1 1594.2,79.3 C1597.3,80.5 1604.4,81.2 1606.5,81.6 M1611,79 C1610.5,80 1608.3,82.5 1607.7,85.4 C1607,88.2 1606,93.3 1607.1,96.1 C1608.1,98.9 1613.2,100.4 1613.8,102.2 C1614.4,104 1610.5,105.3 1610.7,106.8 C1611,108.3 1614.6,110.6 1615.3,111.4 M1597,68.6 C1597.8,67.8 1601.1,64.5 1601.9,63.7 M1540.4,105 C1541.2,103.7 1543.2,99.6 1545,97.3 C1546.8,95 1549.1,93.1 1551.4,91.2 C1553.8,89.3 1557.8,86.7 1559.1,85.9 M1569.5,85.9 C1571.3,86.1 1578.6,87.3 1580.5,87.5 M1592.4,90 C1593.5,89.4 1597.7,87.2 1598.8,86.6 M1545,110.3 C1546.8,110.4 1554.2,110.9 1556,111.1 M1567.9,109.8 C1570,109.7 1578.4,109.1 1580.5,108.9 M1591.6,108.9 C1593.6,108.8 1601.4,108.2 1603.4,108 M1618.4,85.1 C1619.4,85.5 1623.7,87.3 1624.8,87.7 M1629.1,97.6 C1629.6,97.9 1631.9,98.9 1632.4,99.1 M1634,89.7 C1634.1,90.7 1634.5,95 1634.6,96.1 M1625.3,108.9 C1626.2,108 1630,104.3 1630.9,103.4 M1558.8,51.5 C1559.5,51.6 1562.6,52.1 1563.4,52.2" fill="none" stroke="#14c97a" stroke-width="2.5" stroke-linecap="round" stroke-linejoin="round" stroke-dasharray="7 4.5"/>
<path d="M1381.9,253.8 C1383.2,254.3 1388.2,254.8 1389.8,257.1 C1391.4,259.4 1391.7,264.5 1391.3,267.5 C1391,270.6 1390.3,273.9 1388,275.5 C1385.6,277 1379.4,278.3 1377.3,277 C1375.2,275.7 1375.5,270.6 1375.5,267.5 C1375.5,264.4 1376,260.6 1377.3,258.3 C1378.6,256 1382.4,254.5 1383.4,253.8 M1386.8,280 C1386.9,281.3 1389.2,286.1 1387.4,287.4 C1385.5,288.7 1377.4,286.4 1375.8,287.7 C1374.1,289 1375.8,293.5 1377.3,295.3 C1378.8,297.1 1382.8,297.2 1384.9,298.4 C1387,299.6 1387.5,301.1 1389.8,302.7 C1392.2,304.2 1397.5,306.7 1399,307.6 M1375.8,301.1 C1376,302.2 1375.5,305.4 1377.3,307.2 C1379.1,309.1 1384.4,310.6 1386.5,312.1 C1388.5,313.7 1387.5,315.9 1389.5,316.4 C1391.6,316.9 1396.1,316.7 1398.7,315.2 C1401.2,313.7 1402.5,309.6 1404.8,307.6 C1407.1,305.5 1408.8,303.8 1412.4,303 C1416.1,302.2 1424.2,302.7 1426.5,302.7 M1399,274.5 C1401.2,274.5 1410.2,274.3 1412.4,274.2 M1420.1,277.6 C1421.2,278 1425.4,279.6 1426.5,280 M1426.2,269 C1427.2,267.8 1429.3,263.7 1432.3,261.4 C1435.4,259.1 1440.5,256 1444.5,255.3 C1448.6,254.5 1453.5,255 1456.8,256.8 C1460.1,258.6 1463.1,262.1 1464.4,266 C1465.7,269.9 1465.4,275.7 1464.4,280 C1463.4,284.4 1461.1,289.7 1458.3,292.3 C1455.5,294.8 1451.4,295.1 1447.6,295.3 C1443.8,295.6 1438.7,295.6 1435.4,293.8 C1432.1,292 1430.3,287.2 1427.7,284.6 C1425.2,282.1 1422.1,277.8 1420.1,278.5 C1418,279.2 1417,285.1 1415.5,288.9 C1414,292.7 1411.7,299.4 1410.9,301.4 M1403.3,322.5 C1404,321.8 1405.1,318.8 1407.9,318.3 C1410.7,317.7 1418,319.3 1420.1,319.5 M1410.9,314.9 C1413,314.8 1421.4,314.4 1423.4,314.3 M1389.5,325.6 C1390.5,327.1 1394.1,332.4 1395.6,334.8 C1397.2,337.1 1396.4,338.1 1398.7,339.6 C1401,341.2 1405.8,343.7 1409.4,344.2 C1413,344.7 1416,343 1420.1,342.7 C1424.2,342.5 1429.8,342.5 1433.8,342.7 C1437.9,343 1441.2,344.5 1444.5,344.2 C1447.9,343.9 1452.2,343 1454,340.9 C1455.8,338.8 1456.6,334 1455.5,331.7 C1454.5,329.4 1450.4,328.6 1447.6,327.1 C1444.7,325.6 1441.2,324.1 1438.4,322.8 C1435.6,321.6 1432.1,320.3 1430.8,319.8 M1438.4,309.1 C1439.4,309.3 1442.8,309.6 1444.5,310.6 C1446.3,311.6 1447.1,313.9 1449.1,315.2 C1451.2,316.5 1453.7,317.5 1456.8,318.3 C1459.9,319 1465.2,320 1467.8,319.8 C1470.4,319.5 1471.6,317.2 1472.4,316.7 M1456.8,307.2 C1458.3,306.7 1464.1,303.9 1465.9,304.2 C1467.8,304.5 1467.5,308.3 1467.8,309.1 M1450.6,293.8 C1451.7,293 1455.2,289.2 1456.8,289.2 C1458.3,289.2 1459.6,293 1460.1,293.8" fill="none" stroke="#000" stroke-width="2.5" stroke-linecap="round" stroke-linejoin="round" stroke-dasharray="7 4.5"/>
<path d="M1538.4,254.3 C1539.7,254.8 1544.7,255.3 1546.3,257.6 C1547.9,259.9 1548.2,265 1547.8,268 C1547.5,271.1 1546.8,274.4 1544.5,276 C1542.1,277.5 1535.9,278.8 1533.8,277.5 C1531.7,276.2 1532,271.1 1532,268 C1532,264.9 1532.5,261.1 1533.8,258.8 C1535.1,256.5 1538.9,255 1539.9,254.3 M1543.3,280.5 C1543.4,281.8 1545.7,286.6 1543.9,287.9 C1542,289.2 1533.9,286.9 1532.3,288.2 C1530.6,289.5 1532.3,294 1533.8,295.8 C1535.3,297.6 1539.3,297.7 1541.4,298.9 C1543.5,300.1 1544,301.6 1546.3,303.2 C1548.7,304.7 1554,307.2 1555.5,308.1 M1532.3,301.6 C1532.5,302.7 1532,305.9 1533.8,307.7 C1535.6,309.6 1540.9,311.1 1543,312.6 C1545,314.2 1544,316.4 1546,316.9 C1548.1,317.4 1552.6,317.2 1555.2,315.7 C1557.7,314.2 1559,310.1 1561.3,308.1 C1563.6,306 1565.3,304.3 1568.9,303.5 C1572.6,302.7 1580.7,303.2 1583,303.2 M1555.5,275 C1557.7,275 1566.7,274.8 1568.9,274.7 M1576.6,278.1 C1577.7,278.5 1581.9,280.1 1583,280.5 M1582.7,269.5 C1583.7,268.3 1585.8,264.2 1588.8,261.9 C1591.9,259.6 1597,256.5 1601,255.8 C1605.1,255 1610,255.5 1613.3,257.3 C1616.6,259.1 1619.6,262.6 1620.9,266.5 C1622.2,270.4 1621.9,276.2 1620.9,280.5 C1619.9,284.9 1617.6,290.2 1614.8,292.8 C1612,295.3 1607.9,295.6 1604.1,295.8 C1600.3,296.1 1595.2,296.1 1591.9,294.3 C1588.6,292.5 1586.8,287.7 1584.2,285.1 C1581.7,282.6 1578.6,278.3 1576.6,279 C1574.5,279.7 1573.5,285.6 1572,289.4 C1570.5,293.2 1568.2,299.9 1567.4,301.9 M1559.8,323 C1560.5,322.3 1561.6,319.3 1564.4,318.8 C1567.2,318.2 1574.5,319.8 1576.6,320 M1567.4,315.4 C1569.5,315.3 1577.9,314.9 1579.9,314.8 M1546,326.1 C1547,327.6 1550.6,332.9 1552.1,335.3 C1553.7,337.6 1552.9,338.6 1555.2,340.1 C1557.5,341.7 1562.3,344.2 1565.9,344.7 C1569.5,345.2 1572.5,343.5 1576.6,343.2 C1580.7,343 1586.3,343 1590.3,343.2 C1594.4,343.5 1597.7,345 1601,344.7 C1604.4,344.4 1608.7,343.5 1610.5,341.4 C1612.3,339.3 1613.1,334.5 1612,332.2 C1611,329.9 1606.9,329.1 1604.1,327.6 C1601.2,326.1 1597.7,324.6 1594.9,323.3 C1592.1,322.1 1588.6,320.8 1587.3,320.3 M1594.9,309.6 C1595.9,309.8 1599.3,310.1 1601,311.1 C1602.8,312.1 1603.6,314.4 1605.6,315.7 C1607.7,317 1610.2,318 1613.3,318.8 C1616.4,319.5 1621.7,320.5 1624.3,320.3 C1626.9,320 1628.1,317.7 1628.9,317.2 M1613.3,307.7 C1614.8,307.2 1620.6,304.4 1622.4,304.7 C1624.3,305 1624,308.8 1624.3,309.6 M1607.1,294.3 C1608.2,293.5 1611.7,289.7 1613.3,289.7 C1614.8,289.7 1616.1,293.5 1616.6,294.3" fill="none" stroke="#ea1c30" stroke-width="2.5" stroke-linecap="round" stroke-linejoin="round" stroke-dasharray="7 4.5"/>
<line x1="1323" y1="67" x2="1359" y2="67" stroke="#000" stroke-width="1.8" />
<path d="M1348,61.5 L1359,67 L1348,72.5" fill="none" stroke="#000" stroke-width="1.8" stroke-linejoin="miter"/>
<line x1="1323" y1="302" x2="1359" y2="302" stroke="#000" stroke-width="1.8" />
<path d="M1348,296.5 L1359,302 L1348,307.5" fill="none" stroke="#000" stroke-width="1.8" stroke-linejoin="miter"/>
<line x1="1486" y1="64.5" x2="1521" y2="64.5" stroke="#000" stroke-width="1.8" />
<path d="M1510,59 L1521,64.5 L1510,70" fill="none" stroke="#000" stroke-width="1.8" stroke-linejoin="miter"/>
<line x1="1486" y1="299.6" x2="1521" y2="299.6" stroke="#000" stroke-width="1.8" />
<path d="M1510,294.1 L1521,299.6 L1510,305.1" fill="none" stroke="#000" stroke-width="1.8" stroke-linejoin="miter"/>
<path d="M1636,63.6 L1667,63.6 L1667,299.6 L1637.6,299.6" fill="none" stroke="#000" stroke-width="2.2"/>
<line x1="1667" y1="185" x2="1703.5" y2="185" stroke="#000" stroke-width="1.8" />
<path d="M1692.5,179.5 L1703.5,185 L1692.5,190.5" fill="none" stroke="#000" stroke-width="1.8" stroke-linejoin="miter"/>
<line x1="1793" y1="185" x2="1829" y2="185" stroke="#000" stroke-width="1.8" />
<path d="M1818,179.5 L1829,185 L1818,190.5" fill="none" stroke="#000" stroke-width="1.8" stroke-linejoin="miter"/>
<text x="1211" y="193" font-size="25.8" text-anchor="start" font-family="'Liberation Sans', Arial, sans-serif" >Extraction</text>
<text x="1379" y="169" font-size="25.8" text-anchor="start" font-family="'Liberation Sans', Arial, sans-serif" >Trypsin</text>
<text x="1379" y="214" font-size="25.8" text-anchor="start" font-family="'Liberation Sans', Arial, sans-serif" >digestion</text>
<text x="1537.5" y="164.3" font-size="25.8" text-anchor="start" font-family="'Liberation Sans', Arial, sans-serif" >iTRAQ</text>
<text x="1537.5" y="209.6" font-size="25.8" text-anchor="start" font-family="'Liberation Sans', Arial, sans-serif" >Labeling</text>
<text x="1708" y="193" font-size="25.8" text-anchor="start" font-family="'Liberation Sans', Arial, sans-serif" >1:1 mix</text>
<text x="1834.5" y="193" font-size="25.8" text-anchor="start" font-family="'Liberation Sans', Arial, sans-serif" >LC-MS/MS</text>
<text x="0.5" y="456" font-size="30.5" text-anchor="start" font-family="'Liberation Sans', Arial, sans-serif" >C</text>
<rect x="70.7" y="491.8" width="450.2" height="651.2" fill="#fff" stroke="#555" stroke-width="1.3"/>
<line x1="65.3" y1="1113.2" x2="70.7" y2="1113.2" stroke="#444" stroke-width="1.3" />
<text x="57.5" y="1123.2" font-size="25.8" text-anchor="end" font-family="'Liberation Sans', Arial, sans-serif" >0</text>
<line x1="65.3" y1="965.7" x2="70.7" y2="965.7" stroke="#444" stroke-width="1.3" />
<text x="57.5" y="975.7" font-size="25.8" text-anchor="end" font-family="'Liberation Sans', Arial, sans-serif" >5</text>
<line x1="65.3" y1="818.2" x2="70.7" y2="818.2" stroke="#444" stroke-width="1.3" />
<text x="57.5" y="828.2" font-size="25.8" text-anchor="end" font-family="'Liberation Sans', Arial, sans-serif" >10</text>
<line x1="65.3" y1="670.7" x2="70.7" y2="670.7" stroke="#444" stroke-width="1.3" />
<text x="57.5" y="680.7" font-size="25.8" text-anchor="end" font-family="'Liberation Sans', Arial, sans-serif" >15</text>
<line x1="65.3" y1="523.2" x2="70.7" y2="523.2" stroke="#444" stroke-width="1.3" />
<text x="57.5" y="533.2" font-size="25.8" text-anchor="end" font-family="'Liberation Sans', Arial, sans-serif" >20</text>
<line x1="82.8" y1="1143" x2="82.8" y2="1148.2" stroke="#444" stroke-width="1.3" />
<text x="89.8" y="1171.5" font-size="25.5" text-anchor="end" font-family="'Liberation Sans', Arial, sans-serif" >-6</text>
<line x1="189.1" y1="1143" x2="189.1" y2="1148.2" stroke="#444" stroke-width="1.3" />
<text x="196.1" y="1171.5" font-size="25.5" text-anchor="end" font-family="'Liberation Sans', Arial, sans-serif" >-3</text>
<line x1="295.5" y1="1143" x2="295.5" y2="1148.2" stroke="#444" stroke-width="1.3" />
<text x="295.5" y="1171.5" font-size="25.5" text-anchor="middle" font-family="'Liberation Sans', Arial, sans-serif" >0</text>
<line x1="401.9" y1="1143" x2="401.9" y2="1148.2" stroke="#444" stroke-width="1.3" />
<text x="401.9" y="1171.5" font-size="25.5" text-anchor="middle" font-family="'Liberation Sans', Arial, sans-serif" >3</text>
<line x1="508.2" y1="1143" x2="508.2" y2="1148.2" stroke="#444" stroke-width="1.3" />
<text x="508.2" y="1171.5" font-size="25.5" text-anchor="middle" font-family="'Liberation Sans', Arial, sans-serif" >6</text>
<text x="298.5" y="1209" font-size="25.8" text-anchor="middle" font-family="'Liberation Sans', Arial, sans-serif" >Log2 PC9/GR vs PC9</text>
<text transform="translate(26.3,815.5) rotate(-90)" font-size="25.6" text-anchor="middle" font-family="'Liberation Sans', Arial, sans-serif">-log10 P value</text>
<g fill="#f0f0f0" stroke="#e9e9e9" stroke-width="0.8"><circle cx="306.2" cy="1109" r="5.2"/><circle cx="290.1" cy="1109.5" r="5.2"/><circle cx="292.1" cy="1098.1" r="5.2"/><circle cx="304.5" cy="1095.2" r="5.2"/><circle cx="301.1" cy="1096.4" r="5.2"/><circle cx="299.8" cy="1106.8" r="5.2"/><circle cx="312.9" cy="1086.2" r="5.2"/><circle cx="305.9" cy="1105" r="5.2"/><circle cx="262.2" cy="1085.8" r="5.2"/><circle cx="287.1" cy="1098.8" r="5.2"/><circle cx="295.3" cy="1108.2" r="5.2"/><circle cx="283.7" cy="1104.7" r="5.2"/><circle cx="303.9" cy="1108.2" r="5.2"/><circle cx="329.7" cy="1102.5" r="5.2"/><circle cx="319.5" cy="1104.2" r="5.2"/><circle cx="281.8" cy="1103.1" r="5.2"/><circle cx="294.1" cy="1107.6" r="5.2"/><circle cx="301.1" cy="1102.9" r="5.2"/><circle cx="277.6" cy="1105.9" r="5.2"/><circle cx="320" cy="1104.8" r="5.2"/><circle cx="301" cy="1100.1" r="5.2"/><circle cx="267.2" cy="1106.3" r="5.2"/><circle cx="321.7" cy="1112.4" r="5.2"/><circle cx="289.9" cy="1080.5" r="5.2"/><circle cx="280.3" cy="1111.5" r="5.2"/><circle cx="295" cy="1105.1" r="5.2"/><circle cx="312.3" cy="1089.4" r="5.2"/><circle cx="314.7" cy="1102.3" r="5.2"/><circle cx="303.3" cy="1089.8" r="5.2"/><circle cx="270.9" cy="1111.3" r="5.2"/><circle cx="284.3" cy="1103.2" r="5.2"/><circle cx="271.5" cy="1105.9" r="5.2"/><circle cx="285.9" cy="1097.5" r="5.2"/><circle cx="256.6" cy="1092.3" r="5.2"/><circle cx="300.9" cy="1089.5" r="5.2"/><circle cx="307.5" cy="1089.8" r="5.2"/><circle cx="247.1" cy="1082.4" r="5.2"/><circle cx="281.9" cy="1107.4" r="5.2"/><circle cx="315.3" cy="1095" r="5.2"/><circle cx="299.3" cy="1095.3" r="5.2"/><circle cx="304.7" cy="1109.2" r="5.2"/><circle cx="308.3" cy="1087.3" r="5.2"/><circle cx="306.9" cy="1104.8" r="5.2"/><circle cx="321.2" cy="1087.8" r="5.2"/><circle cx="306.5" cy="1097.7" r="5.2"/><circle cx="283.9" cy="1081.2" r="5.2"/><circle cx="260.9" cy="1099.5" r="5.2"/><circle cx="316.1" cy="1110.2" r="5.2"/><circle cx="327.6" cy="1091.9" r="5.2"/><circle cx="293.3" cy="1104.2" r="5.2"/><circle cx="308.9" cy="1107.9" r="5.2"/><circle cx="318.5" cy="1111.2" r="5.2"/><circle cx="288.1" cy="1102.5" r="5.2"/><circle cx="296.7" cy="1096.3" r="5.2"/><circle cx="314.7" cy="1098.9" r="5.2"/><circle cx="287.5" cy="1089.4" r="5.2"/><circle cx="293.6" cy="1090.8" r="5.2"/><circle cx="290.4" cy="1110.8" r="5.2"/><circle cx="276.2" cy="1090.4" r="5.2"/><circle cx="271.5" cy="1092.7" r="5.2"/><circle cx="308.5" cy="1100.4" r="5.2"/><circle cx="313" cy="1094.9" r="5.2"/><circle cx="299" cy="1107.6" r="5.2"/><circle cx="307.4" cy="1110.7" r="5.2"/><circle cx="301.6" cy="1110.3" r="5.2"/><circle cx="296.2" cy="1103.9" r="5.2"/><circle cx="307.2" cy="1100.8" r="5.2"/><circle cx="302.5" cy="1080.6" r="5.2"/><circle cx="288.9" cy="1106.3" r="5.2"/><circle cx="314.2" cy="1113" r="5.2"/><circle cx="303.7" cy="1107.7" r="5.2"/><circle cx="246.2" cy="1083.4" r="5.2"/><circle cx="301" cy="1095" r="5.2"/><circle cx="300.9" cy="1106.7" r="5.2"/><circle cx="309" cy="1106.2" r="5.2"/><circle cx="286" cy="1108.6" r="5.2"/><circle cx="303.1" cy="1073.8" r="5.2"/><circle cx="294.3" cy="1104.2" r="5.2"/><circle cx="295" cy="1109.5" r="5.2"/><circle cx="286.7" cy="1077.5" r="5.2"/><circle cx="281.9" cy="1109" r="5.2"/><circle cx="305" cy="1106.6" r="5.2"/><circle cx="272.4" cy="1110.5" r="5.2"/><circle cx="279.1" cy="1110.6" r="5.2"/><circle cx="331.3" cy="1108.2" r="5.2"/><circle cx="292.6" cy="1081.6" r="5.2"/><circle cx="262.4" cy="1102.9" r="5.2"/><circle cx="282.3" cy="1112.5" r="5.2"/><circle cx="294.2" cy="1098.1" r="5.2"/><circle cx="297" cy="1109.4" r="5.2"/><circle cx="311.1" cy="1110.9" r="5.2"/><circle cx="250.5" cy="1098.8" r="5.2"/><circle cx="311.1" cy="1077.1" r="5.2"/><circle cx="292.6" cy="1072.9" r="5.2"/><circle cx="306.6" cy="1105.6" r="5.2"/><circle cx="309" cy="1111.6" r="5.2"/><circle cx="322.4" cy="1106.8" r="5.2"/><circle cx="274.3" cy="1088" r="5.2"/><circle cx="299.9" cy="1089.8" r="5.2"/><circle cx="288.4" cy="1111.1" r="5.2"/><circle cx="260" cy="1094.2" r="5.2"/><circle cx="264.4" cy="1107.8" r="5.2"/><circle cx="297.9" cy="1103.1" r="5.2"/><circle cx="279.2" cy="1109.6" r="5.2"/><circle cx="246.8" cy="1099.6" r="5.2"/><circle cx="308.2" cy="1100.2" r="5.2"/><circle cx="285.9" cy="1088.6" r="5.2"/><circle cx="305.1" cy="1109.1" r="5.2"/><circle cx="330.6" cy="1092.7" r="5.2"/><circle cx="285.9" cy="1110" r="5.2"/><circle cx="247.8" cy="1092.2" r="5.2"/><circle cx="281.1" cy="1104.9" r="5.2"/><circle cx="293.1" cy="1105" r="5.2"/><circle cx="300.8" cy="1086.4" r="5.2"/><circle cx="288.7" cy="1075.9" r="5.2"/><circle cx="312.2" cy="1083.1" r="5.2"/><circle cx="284.3" cy="1108.1" r="5.2"/><circle cx="312.4" cy="1113" r="5.2"/><circle cx="322.1" cy="1111.9" r="5.2"/><circle cx="316.5" cy="1112.2" r="5.2"/><circle cx="327.6" cy="1089" r="5.2"/><circle cx="313.4" cy="1102.3" r="5.2"/><circle cx="275.1" cy="1082.8" r="5.2"/><circle cx="317.1" cy="1081.4" r="5.2"/><circle cx="296" cy="1093.2" r="5.2"/><circle cx="295.7" cy="1110.1" r="5.2"/><circle cx="300.8" cy="1103.6" r="5.2"/><circle cx="297.1" cy="1084.1" r="5.2"/><circle cx="315.7" cy="1104.6" r="5.2"/><circle cx="271.6" cy="1110" r="5.2"/><circle cx="317.1" cy="1104.2" r="5.2"/><circle cx="284.6" cy="1086.5" r="5.2"/><circle cx="311.7" cy="1096.9" r="5.2"/><circle cx="311.9" cy="1113.1" r="5.2"/><circle cx="273.2" cy="1110.5" r="5.2"/><circle cx="283.8" cy="1087.8" r="5.2"/><circle cx="285.2" cy="1098.2" r="5.2"/><circle cx="281.2" cy="1098.6" r="5.2"/><circle cx="293.9" cy="1088.3" r="5.2"/><circle cx="303.3" cy="1094.1" r="5.2"/><circle cx="302.6" cy="1074.9" r="5.2"/><circle cx="258.3" cy="1102.8" r="5.2"/><circle cx="290.8" cy="1101.4" r="5.2"/><circle cx="279.1" cy="1077" r="5.2"/><circle cx="287.3" cy="1108.5" r="5.2"/><circle cx="310.8" cy="1100.5" r="5.2"/><circle cx="302.6" cy="1102.4" r="5.2"/><circle cx="309.1" cy="1091.6" r="5.2"/><circle cx="255.6" cy="1105.9" r="5.2"/><circle cx="321.7" cy="1098.7" r="5.2"/><circle cx="287.1" cy="1108.4" r="5.2"/><circle cx="261.9" cy="1081.7" r="5.2"/><circle cx="286.8" cy="1105.6" r="5.2"/><circle cx="300.9" cy="1078.8" r="5.2"/><circle cx="313.8" cy="1104.1" r="5.2"/><circle cx="294.5" cy="1098.5" r="5.2"/><circle cx="312.3" cy="1108.4" r="5.2"/><circle cx="292.4" cy="1112.6" r="5.2"/><circle cx="289.2" cy="1096.7" r="5.2"/><circle cx="298.2" cy="1098.7" r="5.2"/><circle cx="279.8" cy="1099.4" r="5.2"/><circle cx="318.4" cy="1080.6" r="5.2"/><circle cx="294.6" cy="1105.7" r="5.2"/><circle cx="301.7" cy="1112.7" r="5.2"/><circle cx="281" cy="1110.9" r="5.2"/><circle cx="311.1" cy="1101.5" r="5.2"/><circle cx="277.2" cy="1087.7" r="5.2"/><circle cx="307.3" cy="1112.7" r="5.2"/><circle cx="283.9" cy="1094.8" r="5.2"/><circle cx="288.2" cy="1111" r="5.2"/><circle cx="306.7" cy="1090" r="5.2"/><circle cx="299.6" cy="1107.6" r="5.2"/><circle cx="285.8" cy="1091.9" r="5.2"/><circle cx="288.5" cy="1111" r="5.2"/><circle cx="290.5" cy="1109.5" r="5.2"/><circle cx="279.9" cy="1101.6" r="5.2"/><circle cx="317.2" cy="1102.3" r="5.2"/><circle cx="289.4" cy="1101.7" r="5.2"/><circle cx="313.5" cy="1099.5" r="5.2"/><circle cx="305.6" cy="1112.6" r="5.2"/><circle cx="301.5" cy="1110.4" r="5.2"/><circle cx="312.3" cy="1109" r="5.2"/><circle cx="327.2" cy="1103.9" r="5.2"/><circle cx="318.4" cy="1108.5" r="5.2"/><circle cx="312.4" cy="1106.6" r="5.2"/><circle cx="297.9" cy="1101" r="5.2"/><circle cx="299.3" cy="1087" r="5.2"/><circle cx="292.2" cy="1103.2" r="5.2"/><circle cx="303.4" cy="1075.8" r="5.2"/><circle cx="318.5" cy="1089.6" r="5.2"/><circle cx="305.6" cy="1095.9" r="5.2"/><circle cx="279.4" cy="1105" r="5.2"/><circle cx="295" cy="1088.5" r="5.2"/><circle cx="294.2" cy="1098.4" r="5.2"/><circle cx="269.7" cy="1100.6" r="5.2"/><circle cx="281.2" cy="1102.3" r="5.2"/><circle cx="301.5" cy="1110.1" r="5.2"/><circle cx="301.6" cy="1108.9" r="5.2"/><circle cx="281.3" cy="1112.5" r="5.2"/><circle cx="303.2" cy="1109.7" r="5.2"/><circle cx="263.1" cy="1095.4" r="5.2"/><circle cx="282.3" cy="1106.9" r="5.2"/><circle cx="312.4" cy="1112.5" r="5.2"/><circle cx="299.1" cy="1104" r="5.2"/><circle cx="301.3" cy="1101.2" r="5.2"/><circle cx="283.8" cy="1070.9" r="5.2"/><circle cx="292" cy="1101.6" r="5.2"/><circle cx="292.6" cy="1099.6" r="5.2"/><circle cx="296.9" cy="1112.7" r="5.2"/><circle cx="311.2" cy="1099.7" r="5.2"/><circle cx="296" cy="1102.3" r="5.2"/><circle cx="296.2" cy="1111.6" r="5.2"/><circle cx="304.6" cy="1112.6" r="5.2"/><circle cx="299.6" cy="1109.4" r="5.2"/><circle cx="298.5" cy="1099.5" r="5.2"/><circle cx="321.9" cy="1110.9" r="5.2"/><circle cx="290.3" cy="1086.6" r="5.2"/><circle cx="270.3" cy="1099.1" r="5.2"/><circle cx="282.9" cy="1101.5" r="5.2"/><circle cx="260.2" cy="1091.6" r="5.2"/><circle cx="268.6" cy="1109.4" r="5.2"/><circle cx="306.3" cy="1083.5" r="5.2"/><circle cx="279" cy="1095.5" r="5.2"/><circle cx="270.7" cy="1110.2" r="5.2"/><circle cx="292.8" cy="1094.2" r="5.2"/><circle cx="265.9" cy="1098.3" r="5.2"/><circle cx="273.3" cy="1103.3" r="5.2"/><circle cx="277.8" cy="1094" r="5.2"/><circle cx="283" cy="1109.1" r="5.2"/><circle cx="298.2" cy="1104.7" r="5.2"/><circle cx="303.3" cy="1108.3" r="5.2"/><circle cx="274.8" cy="1102.5" r="5.2"/><circle cx="276.5" cy="1097.4" r="5.2"/><circle cx="275.7" cy="1105.3" r="5.2"/><circle cx="296.9" cy="1084.2" r="5.2"/><circle cx="273.2" cy="1113" r="5.2"/><circle cx="289.9" cy="1090" r="5.2"/><circle cx="309.1" cy="1088.9" r="5.2"/><circle cx="303.9" cy="1113.1" r="5.2"/><circle cx="327.6" cy="1110.6" r="5.2"/><circle cx="326.9" cy="1105.8" r="5.2"/><circle cx="292.8" cy="1094.5" r="5.2"/><circle cx="311.2" cy="1099.5" r="5.2"/><circle cx="265.8" cy="1102" r="5.2"/><circle cx="277.4" cy="1095.9" r="5.2"/><circle cx="301.4" cy="1105.1" r="5.2"/><circle cx="284.7" cy="1112.5" r="5.2"/><circle cx="294.9" cy="1110.9" r="5.2"/><circle cx="301.9" cy="1101.3" r="5.2"/><circle cx="269.8" cy="1101.5" r="5.2"/><circle cx="281.8" cy="1107.1" r="5.2"/><circle cx="293.9" cy="1095.2" r="5.2"/><circle cx="298.3" cy="1105.2" r="5.2"/><circle cx="288.2" cy="1104.7" r="5.2"/><circle cx="289.9" cy="1075.5" r="5.2"/><circle cx="298.6" cy="1095.3" r="5.2"/><circle cx="249.9" cy="1095.1" r="5.2"/><circle cx="301" cy="1101" r="5.2"/><circle cx="269.1" cy="1103.4" r="5.2"/><circle cx="290.9" cy="1105.4" r="5.2"/><circle cx="289" cy="1073.6" r="5.2"/><circle cx="322.9" cy="1093" r="5.2"/><circle cx="294" cy="1079.4" r="5.2"/><circle cx="282.7" cy="1109.8" r="5.2"/><circle cx="282.7" cy="1098.2" r="5.2"/><circle cx="296.5" cy="1111.8" r="5.2"/><circle cx="297.3" cy="1095.5" r="5.2"/><circle cx="306.4" cy="1110.3" r="5.2"/><circle cx="310.3" cy="1105.3" r="5.2"/><circle cx="295.2" cy="1112.7" r="5.2"/><circle cx="276" cy="1113.1" r="5.2"/><circle cx="282.5" cy="1090.3" r="5.2"/><circle cx="286.9" cy="1102.3" r="5.2"/><circle cx="310.2" cy="1101.9" r="5.2"/><circle cx="296" cy="1091.6" r="5.2"/><circle cx="312" cy="1102.2" r="5.2"/><circle cx="302.3" cy="1112.4" r="5.2"/><circle cx="318.3" cy="1088.5" r="5.2"/><circle cx="273.4" cy="1104.8" r="5.2"/><circle cx="319.4" cy="1111.3" r="5.2"/><circle cx="313.7" cy="1107.4" r="5.2"/><circle cx="285.2" cy="1080.8" r="5.2"/><circle cx="270.7" cy="1104.5" r="5.2"/><circle cx="272.2" cy="1080.2" r="5.2"/><circle cx="286.7" cy="1088.6" r="5.2"/><circle cx="305.9" cy="1088.1" r="5.2"/><circle cx="306.1" cy="1087.4" r="5.2"/><circle cx="283.6" cy="1105" r="5.2"/><circle cx="309.7" cy="1077.8" r="5.2"/><circle cx="312" cy="1100.4" r="5.2"/><circle cx="309.8" cy="1105.6" r="5.2"/><circle cx="279" cy="1110.1" r="5.2"/><circle cx="282.5" cy="1105.6" r="5.2"/><circle cx="289.3" cy="1098" r="5.2"/><circle cx="306.3" cy="1108.4" r="5.2"/><circle cx="337.1" cy="1104" r="5.2"/><circle cx="296.5" cy="1101.8" r="5.2"/><circle cx="259.8" cy="1094.6" r="5.2"/><circle cx="306" cy="1106.4" r="5.2"/><circle cx="305.8" cy="1100.7" r="5.2"/><circle cx="304" cy="1103.1" r="5.2"/><circle cx="321.5" cy="1112.1" r="5.2"/><circle cx="275.1" cy="1092.7" r="5.2"/><circle cx="306.7" cy="1098.9" r="5.2"/><circle cx="293.3" cy="1097.6" r="5.2"/><circle cx="302.1" cy="1110.1" r="5.2"/><circle cx="263.7" cy="1105.9" r="5.2"/><circle cx="295.6" cy="1090.3" r="5.2"/><circle cx="285.9" cy="1105.8" r="5.2"/><circle cx="310.8" cy="1111.6" r="5.2"/><circle cx="308.7" cy="1099" r="5.2"/><circle cx="285.4" cy="1083" r="5.2"/><circle cx="293.3" cy="1110.8" r="5.2"/><circle cx="302.4" cy="1088.2" r="5.2"/><circle cx="282.8" cy="1098.6" r="5.2"/><circle cx="296" cy="1112.9" r="5.2"/><circle cx="324.3" cy="1084.4" r="5.2"/><circle cx="262.1" cy="1098.6" r="5.2"/><circle cx="293.7" cy="1101.1" r="5.2"/><circle cx="303.4" cy="1105.9" r="5.2"/><circle cx="292.1" cy="1088.9" r="5.2"/><circle cx="285" cy="1089" r="5.2"/><circle cx="269.7" cy="1096.6" r="5.2"/><circle cx="302.8" cy="1093.4" r="5.2"/><circle cx="304.6" cy="1085.7" r="5.2"/><circle cx="306.2" cy="1109.2" r="5.2"/><circle cx="305.8" cy="1110.4" r="5.2"/><circle cx="305.9" cy="1112.9" r="5.2"/><circle cx="301" cy="1108.5" r="5.2"/><circle cx="292.3" cy="1092" r="5.2"/><circle cx="305.2" cy="1104.4" r="5.2"/><circle cx="294.5" cy="1111.3" r="5.2"/><circle cx="316.8" cy="1107.5" r="5.2"/><circle cx="289.1" cy="1090.6" r="5.2"/><circle cx="281.4" cy="1099.5" r="5.2"/><circle cx="310.8" cy="1112" r="5.2"/><circle cx="288.7" cy="1088.6" r="5.2"/><circle cx="300" cy="1112" r="5.2"/><circle cx="296.5" cy="1088.9" r="5.2"/><circle cx="303.5" cy="1102.2" r="5.2"/><circle cx="257.7" cy="1094.9" r="5.2"/><circle cx="301.3" cy="1112.6" r="5.2"/><circle cx="313.5" cy="1104.3" r="5.2"/><circle cx="284.4" cy="1108.8" r="5.2"/><circle cx="265.6" cy="1105.4" r="5.2"/><circle cx="295.8" cy="1102.2" r="5.2"/><circle cx="293" cy="1099.4" r="5.2"/><circle cx="283.4" cy="1108.2" r="5.2"/><circle cx="328.6" cy="1108.3" r="5.2"/><circle cx="342.3" cy="1102.1" r="5.2"/><circle cx="296.5" cy="1102.8" r="5.2"/><circle cx="316.2" cy="1110.4" r="5.2"/><circle cx="255.3" cy="1093.1" r="5.2"/><circle cx="311.7" cy="1103.4" r="5.2"/><circle cx="262.6" cy="1103.1" r="5.2"/><circle cx="298.4" cy="1107.8" r="5.2"/><circle cx="322.1" cy="1086" r="5.2"/><circle cx="275.1" cy="1093.6" r="5.2"/><circle cx="295.5" cy="1075.6" r="5.2"/><circle cx="307.2" cy="1108.2" r="5.2"/><circle cx="283.5" cy="1088.5" r="5.2"/><circle cx="301.9" cy="1089.7" r="5.2"/><circle cx="309.2" cy="1101.8" r="5.2"/><circle cx="306.6" cy="1108.3" r="5.2"/><circle cx="296.5" cy="1100.1" r="5.2"/><circle cx="335.3" cy="1089.1" r="5.2"/><circle cx="331.5" cy="1083.3" r="5.2"/><circle cx="313.9" cy="1109.2" r="5.2"/><circle cx="263.6" cy="1100.1" r="5.2"/><circle cx="298.8" cy="1108.5" r="5.2"/><circle cx="299.3" cy="1097.7" r="5.2"/><circle cx="290" cy="1103.9" r="5.2"/><circle cx="327.5" cy="1090.4" r="5.2"/><circle cx="300" cy="1096.8" r="5.2"/><circle cx="265.4" cy="1102.7" r="5.2"/><circle cx="297.5" cy="1109" r="5.2"/><circle cx="313" cy="1079.5" r="5.2"/><circle cx="318.9" cy="1112" r="5.2"/><circle cx="309.4" cy="1106.3" r="5.2"/><circle cx="289.1" cy="1091.5" r="5.2"/><circle cx="327.1" cy="1111.2" r="5.2"/><circle cx="310.5" cy="1107.9" r="5.2"/><circle cx="297" cy="1086" r="5.2"/><circle cx="282.4" cy="1093.3" r="5.2"/><circle cx="294.7" cy="1109.8" r="5.2"/><circle cx="318.2" cy="1111.3" r="5.2"/><circle cx="283.2" cy="1074.4" r="5.2"/><circle cx="305.9" cy="1103.9" r="5.2"/><circle cx="305.9" cy="1096.1" r="5.2"/><circle cx="290.8" cy="1103.9" r="5.2"/><circle cx="266" cy="1104.6" r="5.2"/><circle cx="266.1" cy="1100.9" r="5.2"/><circle cx="285.4" cy="1101.9" r="5.2"/><circle cx="313" cy="1106.7" r="5.2"/><circle cx="288.5" cy="1111.9" r="5.2"/><circle cx="327" cy="1104.4" r="5.2"/><circle cx="303.3" cy="1113.1" r="5.2"/><circle cx="301.4" cy="1093.1" r="5.2"/><circle cx="344.8" cy="1092.4" r="5.2"/><circle cx="257.5" cy="1077.4" r="5.2"/><circle cx="304.3" cy="1112.6" r="5.2"/><circle cx="309.3" cy="1097.5" r="5.2"/><circle cx="275.7" cy="1108.8" r="5.2"/><circle cx="316.4" cy="1111.5" r="5.2"/><circle cx="276.2" cy="1095.5" r="5.2"/><circle cx="304.3" cy="1112.8" r="5.2"/><circle cx="322" cy="1090.7" r="5.2"/><circle cx="320.5" cy="1107.5" r="5.2"/><circle cx="319.1" cy="1094.7" r="5.2"/><circle cx="310.2" cy="1109.4" r="5.2"/><circle cx="307.5" cy="1112.9" r="5.2"/><circle cx="279.2" cy="1097.3" r="5.2"/><circle cx="313.6" cy="1105.7" r="5.2"/><circle cx="295.1" cy="1093.9" r="5.2"/><circle cx="306.4" cy="1109.8" r="5.2"/><circle cx="295.7" cy="1105.7" r="5.2"/><circle cx="301.9" cy="1083.6" r="5.2"/><circle cx="259.8" cy="1093.8" r="5.2"/><circle cx="300.3" cy="1100.1" r="5.2"/><circle cx="304.8" cy="1105.5" r="5.2"/><circle cx="291.8" cy="1092" r="5.2"/><circle cx="288.2" cy="1099" r="5.2"/><circle cx="280.3" cy="1101.4" r="5.2"/><circle cx="323.2" cy="1111.4" r="5.2"/><circle cx="312.4" cy="1096" r="5.2"/><circle cx="286.9" cy="1104.9" r="5.2"/><circle cx="304.1" cy="1107.1" r="5.2"/><circle cx="310.5" cy="1109.7" r="5.2"/><circle cx="279.6" cy="1094.1" r="5.2"/><circle cx="299" cy="1112.5" r="5.2"/><circle cx="322.2" cy="1101.8" r="5.2"/><circle cx="311.7" cy="1107.6" r="5.2"/><circle cx="329.5" cy="1104.9" r="5.2"/><circle cx="294.1" cy="1107.6" r="5.2"/><circle cx="307.8" cy="1100.1" r="5.2"/><circle cx="287.6" cy="1091.2" r="5.2"/><circle cx="302.5" cy="1105" r="5.2"/><circle cx="277.4" cy="1107.6" r="5.2"/><circle cx="312.6" cy="1110.3" r="5.2"/><circle cx="291.3" cy="1099.8" r="5.2"/><circle cx="288.8" cy="1099.3" r="5.2"/><circle cx="315.7" cy="1085.1" r="5.2"/><circle cx="295.8" cy="1097.8" r="5.2"/><circle cx="326" cy="1104.7" r="5.2"/><circle cx="298.2" cy="1112.7" r="5.2"/><circle cx="284.3" cy="1099.3" r="5.2"/><circle cx="278.2" cy="1106.1" r="5.2"/><circle cx="281.7" cy="1099.8" r="5.2"/><circle cx="299.1" cy="1111.7" r="5.2"/><circle cx="287.3" cy="1091.2" r="5.2"/><circle cx="291.7" cy="1107.3" r="5.2"/><circle cx="283.2" cy="1102" r="5.2"/><circle cx="295.9" cy="1104.1" r="5.2"/><circle cx="319.4" cy="1109.1" r="5.2"/><circle cx="292" cy="1106.3" r="5.2"/><circle cx="298.3" cy="1083.9" r="5.2"/><circle cx="293.5" cy="1102.7" r="5.2"/><circle cx="329.6" cy="1086" r="5.2"/><circle cx="292.8" cy="1094.8" r="5.2"/><circle cx="310.9" cy="1078.2" r="5.2"/><circle cx="323.6" cy="1086.4" r="5.2"/><circle cx="271.3" cy="1091.2" r="5.2"/><circle cx="325.1" cy="1098" r="5.2"/><circle cx="315.8" cy="1110.3" r="5.2"/><circle cx="266.1" cy="1095.8" r="5.2"/><circle cx="308.7" cy="1108.5" r="5.2"/><circle cx="310.1" cy="1097.4" r="5.2"/><circle cx="302.9" cy="1107" r="5.2"/><circle cx="316.9" cy="1112.7" r="5.2"/><circle cx="302.6" cy="1093" r="5.2"/><circle cx="290.8" cy="1113" r="5.2"/><circle cx="287.9" cy="1108.9" r="5.2"/><circle cx="281.8" cy="1096.6" r="5.2"/><circle cx="284.3" cy="1103.5" r="5.2"/><circle cx="308.6" cy="1094.4" r="5.2"/><circle cx="309.1" cy="1091.9" r="5.2"/><circle cx="303.1" cy="1096.7" r="5.2"/><circle cx="300.2" cy="1090.9" r="5.2"/><circle cx="297.2" cy="1101.3" r="5.2"/><circle cx="292.8" cy="1110.8" r="5.2"/><circle cx="316.2" cy="1105.3" r="5.2"/><circle cx="302.6" cy="1106.5" r="5.2"/><circle cx="299.8" cy="1106.7" r="5.2"/><circle cx="304.5" cy="1095.1" r="5.2"/><circle cx="303.2" cy="1090.9" r="5.2"/><circle cx="311.9" cy="1090.3" r="5.2"/><circle cx="273.2" cy="1109.8" r="5.2"/><circle cx="303.9" cy="1095.1" r="5.2"/><circle cx="329.4" cy="1084.5" r="5.2"/><circle cx="325.2" cy="1092.2" r="5.2"/><circle cx="295.4" cy="1086.9" r="5.2"/><circle cx="284.5" cy="1109" r="5.2"/><circle cx="293.6" cy="1094.4" r="5.2"/><circle cx="284.5" cy="1078.4" r="5.2"/><circle cx="325.8" cy="1098.7" r="5.2"/><circle cx="293.2" cy="1107.8" r="5.2"/><circle cx="322.6" cy="1097.1" r="5.2"/><circle cx="331.1" cy="1094.5" r="5.2"/><circle cx="331.6" cy="1108.5" r="5.2"/><circle cx="314.3" cy="1101.3" r="5.2"/><circle cx="289.8" cy="1103.5" r="5.2"/><circle cx="319.3" cy="1111.6" r="5.2"/><circle cx="301.1" cy="1111.3" r="5.2"/><circle cx="306.7" cy="1109.2" r="5.2"/><circle cx="284.8" cy="1090.6" r="5.2"/><circle cx="289" cy="1105.4" r="5.2"/><circle cx="286.8" cy="1111.5" r="5.2"/><circle cx="290.9" cy="1090.6" r="5.2"/><circle cx="326.8" cy="1092.2" r="5.2"/><circle cx="287.5" cy="1093.1" r="5.2"/><circle cx="290" cy="1107.6" r="5.2"/><circle cx="295" cy="1090.3" r="5.2"/><circle cx="317.7" cy="1090.4" r="5.2"/><circle cx="301.4" cy="1108.6" r="5.2"/><circle cx="321.7" cy="1095.6" r="5.2"/><circle cx="300.5" cy="1103.7" r="5.2"/><circle cx="290.1" cy="1113" r="5.2"/><circle cx="282.7" cy="1107.9" r="5.2"/><circle cx="253.2" cy="1083.3" r="5.2"/><circle cx="281.4" cy="1092.6" r="5.2"/><circle cx="275.4" cy="1041.3" r="5.2"/><circle cx="280.2" cy="1074.5" r="5.2"/><circle cx="292" cy="984.6" r="5.2"/><circle cx="308.4" cy="1007.8" r="5.2"/><circle cx="283.5" cy="1064" r="5.2"/><circle cx="278.1" cy="974.7" r="5.2"/><circle cx="288.3" cy="1077.5" r="5.2"/><circle cx="288.5" cy="1066.9" r="5.2"/><circle cx="297.3" cy="1053.1" r="5.2"/><circle cx="284" cy="991.2" r="5.2"/><circle cx="293.5" cy="982.6" r="5.2"/><circle cx="311.1" cy="1063.7" r="5.2"/><circle cx="280.8" cy="1050.6" r="5.2"/><circle cx="299.5" cy="1068" r="5.2"/><circle cx="302.7" cy="878.2" r="5.2"/><circle cx="285.5" cy="1027.8" r="5.2"/><circle cx="299.8" cy="1076.7" r="5.2"/><circle cx="289" cy="997.4" r="5.2"/><circle cx="292.4" cy="976.8" r="5.2"/><circle cx="300.6" cy="808.4" r="5.2"/><circle cx="309.6" cy="1050" r="5.2"/><circle cx="295.3" cy="1073.4" r="5.2"/><circle cx="284.5" cy="1027.1" r="5.2"/><circle cx="305.1" cy="1071.9" r="5.2"/><circle cx="296.1" cy="1076.6" r="5.2"/><circle cx="286" cy="802.4" r="5.2"/><circle cx="298.3" cy="1056.1" r="5.2"/><circle cx="299.3" cy="1009" r="5.2"/><circle cx="284.5" cy="914.4" r="5.2"/><circle cx="286.6" cy="1041.8" r="5.2"/><circle cx="309.4" cy="1073" r="5.2"/><circle cx="301.2" cy="929.1" r="5.2"/><circle cx="307.7" cy="1077.2" r="5.2"/><circle cx="293.3" cy="944.7" r="5.2"/><circle cx="292.9" cy="946" r="5.2"/><circle cx="279" cy="1052.9" r="5.2"/><circle cx="276.5" cy="1052.1" r="5.2"/><circle cx="303.5" cy="1038" r="5.2"/><circle cx="300.8" cy="896.1" r="5.2"/><circle cx="296.2" cy="1047.7" r="5.2"/><circle cx="304.8" cy="1022" r="5.2"/><circle cx="285.9" cy="1005.7" r="5.2"/><circle cx="310.2" cy="977.8" r="5.2"/><circle cx="308.7" cy="1054" r="5.2"/><circle cx="284.6" cy="1076.3" r="5.2"/><circle cx="303.5" cy="1051.6" r="5.2"/><circle cx="300.7" cy="796" r="5.2"/><circle cx="308.5" cy="1039.3" r="5.2"/><circle cx="284.4" cy="1039" r="5.2"/><circle cx="298.2" cy="846" r="5.2"/><circle cx="310.6" cy="971.3" r="5.2"/><circle cx="306.6" cy="1016.1" r="5.2"/><circle cx="292.7" cy="888.1" r="5.2"/><circle cx="296.7" cy="952.3" r="5.2"/><circle cx="283.3" cy="1042" r="5.2"/><circle cx="279.8" cy="982.9" r="5.2"/><circle cx="285.2" cy="842.5" r="5.2"/><circle cx="278.5" cy="1075.1" r="5.2"/><circle cx="290.8" cy="820.4" r="5.2"/><circle cx="275.8" cy="1062.9" r="5.2"/><circle cx="301.7" cy="1073.7" r="5.2"/><circle cx="301.1" cy="980" r="5.2"/><circle cx="280.3" cy="947.9" r="5.2"/><circle cx="289.5" cy="990.9" r="5.2"/><circle cx="304.3" cy="912.2" r="5.2"/><circle cx="282.6" cy="861.8" r="5.2"/><circle cx="306.5" cy="880.8" r="5.2"/><circle cx="285.3" cy="796.6" r="5.2"/><circle cx="279.2" cy="1055.4" r="5.2"/><circle cx="307.8" cy="1074.4" r="5.2"/><circle cx="298.6" cy="915.1" r="5.2"/><circle cx="298.5" cy="908.1" r="5.2"/><circle cx="279" cy="1044.8" r="5.2"/><circle cx="304.2" cy="1067.8" r="5.2"/><circle cx="287.2" cy="1055.5" r="5.2"/><circle cx="276.6" cy="1024.1" r="5.2"/><circle cx="285.9" cy="1048.9" r="5.2"/><circle cx="290" cy="955.3" r="5.2"/><circle cx="311.6" cy="1040.1" r="5.2"/><circle cx="306.9" cy="1009.6" r="5.2"/><circle cx="278.1" cy="984" r="5.2"/><circle cx="291.9" cy="1026" r="5.2"/><circle cx="289.6" cy="933.4" r="5.2"/><circle cx="284.2" cy="1002.7" r="5.2"/><circle cx="282.7" cy="884.8" r="5.2"/><circle cx="284.4" cy="911" r="5.2"/><circle cx="282.3" cy="1077.7" r="5.2"/><circle cx="309.7" cy="938" r="5.2"/><circle cx="293.7" cy="1077.4" r="5.2"/><circle cx="305" cy="1012" r="5.2"/><circle cx="293.9" cy="1057.9" r="5.2"/><circle cx="306.6" cy="1036.3" r="5.2"/><circle cx="311.1" cy="1048.4" r="5.2"/><circle cx="283.3" cy="1045.3" r="5.2"/><circle cx="280.2" cy="1010.6" r="5.2"/><circle cx="280" cy="979.3" r="5.2"/><circle cx="300.6" cy="926.8" r="5.2"/><circle cx="298.5" cy="927.3" r="5.2"/><circle cx="290.5" cy="1035" r="5.2"/><circle cx="308.7" cy="1028.9" r="5.2"/><circle cx="309.3" cy="1069" r="5.2"/><circle cx="282.5" cy="1075.3" r="5.2"/><circle cx="309.4" cy="1048.1" r="5.2"/><circle cx="289.9" cy="1010.1" r="5.2"/><circle cx="287.1" cy="868.1" r="5.2"/><circle cx="295.4" cy="1017.7" r="5.2"/><circle cx="302.6" cy="941.1" r="5.2"/><circle cx="289.2" cy="976.6" r="5.2"/><circle cx="281.2" cy="1039.3" r="5.2"/><circle cx="299.4" cy="897.5" r="5.2"/><circle cx="283.7" cy="945.9" r="5.2"/><circle cx="304.2" cy="1021.6" r="5.2"/><circle cx="281.2" cy="993.5" r="5.2"/><circle cx="308.2" cy="1017.4" r="5.2"/><circle cx="282.4" cy="1051.3" r="5.2"/><circle cx="301.8" cy="1042.9" r="5.2"/><circle cx="284.3" cy="897.1" r="5.2"/><circle cx="284.3" cy="1061.3" r="5.2"/><circle cx="295" cy="1039.3" r="5.2"/><circle cx="287.5" cy="1060.7" r="5.2"/><circle cx="312.5" cy="1057.4" r="5.2"/><circle cx="281.4" cy="950.8" r="5.2"/><circle cx="286.1" cy="758.5" r="5.2"/><circle cx="312.2" cy="1030.6" r="5.2"/><circle cx="301.7" cy="923.6" r="5.2"/><circle cx="283.1" cy="1022.2" r="5.2"/><circle cx="280.9" cy="978.9" r="5.2"/><circle cx="289.8" cy="1055.3" r="5.2"/><circle cx="290.1" cy="1074.4" r="5.2"/><circle cx="300.5" cy="925.4" r="5.2"/><circle cx="299" cy="1010.2" r="5.2"/><circle cx="281.2" cy="1017.2" r="5.2"/><circle cx="291" cy="987.7" r="5.2"/><circle cx="307.7" cy="946.3" r="5.2"/><circle cx="296.9" cy="1023.1" r="5.2"/><circle cx="291.9" cy="943.2" r="5.2"/><circle cx="302.7" cy="1052.5" r="5.2"/><circle cx="302.4" cy="871.3" r="5.2"/><circle cx="299.8" cy="891.5" r="5.2"/><circle cx="292.8" cy="977.9" r="5.2"/><circle cx="299" cy="1041.3" r="5.2"/><circle cx="291" cy="1067.8" r="5.2"/><circle cx="301.2" cy="929.3" r="5.2"/><circle cx="285.7" cy="981.1" r="5.2"/><circle cx="292.6" cy="1024.2" r="5.2"/><circle cx="291.2" cy="983.2" r="5.2"/><circle cx="286.7" cy="818.6" r="5.2"/><circle cx="303.8" cy="974.3" r="5.2"/><circle cx="293.8" cy="1029.9" r="5.2"/><circle cx="285.6" cy="720.2" r="5.2"/><circle cx="282.2" cy="1001.5" r="5.2"/><circle cx="308.3" cy="929.6" r="5.2"/><circle cx="280" cy="1006.5" r="5.2"/><circle cx="295.7" cy="994.6" r="5.2"/><circle cx="294.8" cy="954.8" r="5.2"/><circle cx="305.6" cy="978.5" r="5.2"/><circle cx="291.1" cy="1006" r="5.2"/><circle cx="287.9" cy="790" r="5.2"/><circle cx="303.9" cy="1029.3" r="5.2"/><circle cx="313" cy="1065.1" r="5.2"/><circle cx="277.6" cy="1035" r="5.2"/><circle cx="290.3" cy="1046.6" r="5.2"/><circle cx="290.9" cy="1076.5" r="5.2"/><circle cx="301.5" cy="1024.7" r="5.2"/><circle cx="285.4" cy="1035.5" r="5.2"/><circle cx="303.4" cy="1053.1" r="5.2"/><circle cx="295.4" cy="804" r="5.2"/><circle cx="305.7" cy="1053.7" r="5.2"/><circle cx="283.5" cy="1029.4" r="5.2"/><circle cx="304.9" cy="1064.3" r="5.2"/><circle cx="298.6" cy="916.3" r="5.2"/><circle cx="296.5" cy="1016.1" r="5.2"/><circle cx="311.9" cy="1052.9" r="5.2"/><circle cx="299.4" cy="1035.4" r="5.2"/><circle cx="304.2" cy="911.5" r="5.2"/><circle cx="286.8" cy="1016.3" r="5.2"/><circle cx="281" cy="1000.4" r="5.2"/><circle cx="290.1" cy="903.1" r="5.2"/><circle cx="287.7" cy="892.7" r="5.2"/><circle cx="285" cy="1031.9" r="5.2"/><circle cx="282.7" cy="1023.7" r="5.2"/><circle cx="302.9" cy="1077.5" r="5.2"/><circle cx="284.5" cy="1045.7" r="5.2"/><circle cx="293.4" cy="1042.8" r="5.2"/><circle cx="299.3" cy="1023.3" r="5.2"/><circle cx="289.7" cy="973" r="5.2"/><circle cx="303.8" cy="820.7" r="5.2"/><circle cx="307" cy="1072.1" r="5.2"/><circle cx="302.3" cy="847.8" r="5.2"/><circle cx="307" cy="1063.1" r="5.2"/><circle cx="277.7" cy="980.2" r="5.2"/><circle cx="312" cy="1076.7" r="5.2"/><circle cx="285.8" cy="973.9" r="5.2"/><circle cx="280.1" cy="1067.4" r="5.2"/><circle cx="304.7" cy="1051.9" r="5.2"/><circle cx="281.2" cy="1036.4" r="5.2"/><circle cx="302.6" cy="849.6" r="5.2"/><circle cx="309.3" cy="1059.9" r="5.2"/><circle cx="304.1" cy="986.5" r="5.2"/><circle cx="302.6" cy="859.4" r="5.2"/><circle cx="285.5" cy="900.1" r="5.2"/><circle cx="302.9" cy="1004.1" r="5.2"/><circle cx="308.2" cy="1021.6" r="5.2"/><circle cx="286" cy="999" r="5.2"/><circle cx="280.3" cy="1051.8" r="5.2"/><circle cx="278.3" cy="1011.7" r="5.2"/><circle cx="281.3" cy="1016.5" r="5.2"/><circle cx="294.2" cy="1012" r="5.2"/><circle cx="307.2" cy="1002.3" r="5.2"/><circle cx="307.6" cy="1077.2" r="5.2"/><circle cx="296.5" cy="1016.4" r="5.2"/><circle cx="305.9" cy="971.2" r="5.2"/><circle cx="291.2" cy="1032.1" r="5.2"/><circle cx="285.4" cy="762.9" r="5.2"/><circle cx="299" cy="979.1" r="5.2"/><circle cx="298.4" cy="1075" r="5.2"/><circle cx="290.4" cy="816.8" r="5.2"/><circle cx="295.2" cy="688.2" r="5.2"/><circle cx="308.6" cy="1013.3" r="5.2"/><circle cx="302.7" cy="1074.4" r="5.2"/><circle cx="288.8" cy="982.2" r="5.2"/><circle cx="290.7" cy="885.2" r="5.2"/><circle cx="295.2" cy="1015.2" r="5.2"/><circle cx="285.2" cy="934.5" r="5.2"/><circle cx="291.4" cy="1022.2" r="5.2"/><circle cx="305.8" cy="999.2" r="5.2"/><circle cx="306.6" cy="1044.1" r="5.2"/><circle cx="294.3" cy="1027.5" r="5.2"/><circle cx="294.4" cy="1046.9" r="5.2"/><circle cx="298.1" cy="718.7" r="5.2"/><circle cx="289.2" cy="925" r="5.2"/><circle cx="286.6" cy="1040.7" r="5.2"/><circle cx="299" cy="991.8" r="5.2"/><circle cx="280" cy="928.5" r="5.2"/><circle cx="307.1" cy="952.9" r="5.2"/><circle cx="278.3" cy="1001.1" r="5.2"/><circle cx="275.5" cy="1043" r="5.2"/><circle cx="310.4" cy="1057.3" r="5.2"/><circle cx="299.8" cy="986.5" r="5.2"/><circle cx="307.3" cy="926.3" r="5.2"/><circle cx="298.4" cy="985.7" r="5.2"/><circle cx="301.1" cy="981.8" r="5.2"/><circle cx="300.6" cy="989.5" r="5.2"/><circle cx="300.6" cy="1054.5" r="5.2"/><circle cx="303.8" cy="1018.2" r="5.2"/><circle cx="281.6" cy="1067.4" r="5.2"/><circle cx="304.9" cy="1074.1" r="5.2"/><circle cx="298.8" cy="838.9" r="5.2"/><circle cx="306.2" cy="1033" r="5.2"/><circle cx="296.4" cy="927.5" r="5.2"/><circle cx="286.6" cy="1048.7" r="5.2"/><circle cx="287.5" cy="1024.5" r="5.2"/><circle cx="299.4" cy="1023" r="5.2"/><circle cx="283.5" cy="813.4" r="5.2"/><circle cx="278.1" cy="996.2" r="5.2"/><circle cx="306.2" cy="1065.5" r="5.2"/><circle cx="309" cy="994.4" r="5.2"/><circle cx="276.5" cy="1020.2" r="5.2"/><circle cx="297.6" cy="1030.1" r="5.2"/><circle cx="306.7" cy="807.5" r="5.2"/><circle cx="291.1" cy="1015" r="5.2"/><circle cx="299.8" cy="1067.3" r="5.2"/><circle cx="280.8" cy="1054.6" r="5.2"/><circle cx="274.5" cy="1076.3" r="5.2"/><circle cx="312.3" cy="1065.2" r="5.2"/><circle cx="308.6" cy="1068.8" r="5.2"/><circle cx="275.3" cy="1064.4" r="5.2"/><circle cx="285.9" cy="954.1" r="5.2"/><circle cx="284.2" cy="949" r="5.2"/><circle cx="304.9" cy="1072.8" r="5.2"/><circle cx="306.1" cy="956.1" r="5.2"/><circle cx="280.8" cy="950.4" r="5.2"/><circle cx="301.5" cy="981.4" r="5.2"/><circle cx="310" cy="1017.7" r="5.2"/><circle cx="311.9" cy="1049.3" r="5.2"/><circle cx="278.3" cy="954.8" r="5.2"/><circle cx="300.1" cy="1076.4" r="5.2"/><circle cx="281.6" cy="912.3" r="5.2"/><circle cx="302.8" cy="1041.5" r="5.2"/><circle cx="308.1" cy="1060.1" r="5.2"/><circle cx="278.3" cy="1012.9" r="5.2"/><circle cx="297" cy="1033.2" r="5.2"/><circle cx="300.7" cy="1021.6" r="5.2"/><circle cx="305.7" cy="1062.6" r="5.2"/><circle cx="299.6" cy="1033.9" r="5.2"/><circle cx="291.5" cy="981.1" r="5.2"/><circle cx="304.8" cy="1030.4" r="5.2"/><circle cx="301.7" cy="795.6" r="5.2"/><circle cx="287" cy="996.4" r="5.2"/><circle cx="312.8" cy="1071.7" r="5.2"/><circle cx="289.4" cy="906.8" r="5.2"/><circle cx="310.9" cy="987.2" r="5.2"/><circle cx="297.6" cy="904.6" r="5.2"/><circle cx="291.5" cy="1041.9" r="5.2"/><circle cx="291.2" cy="864.6" r="5.2"/><circle cx="308.1" cy="988.2" r="5.2"/><circle cx="287.8" cy="917.4" r="5.2"/><circle cx="284.7" cy="1077.6" r="5.2"/><circle cx="297.4" cy="1024.4" r="5.2"/><circle cx="306.4" cy="913" r="5.2"/><circle cx="307.2" cy="1073.6" r="5.2"/><circle cx="305.8" cy="915.2" r="5.2"/><circle cx="286.3" cy="995.2" r="5.2"/><circle cx="303.6" cy="892.3" r="5.2"/><circle cx="290.6" cy="839.2" r="5.2"/><circle cx="296.2" cy="1069.1" r="5.2"/><circle cx="285.1" cy="922.4" r="5.2"/><circle cx="308.4" cy="942.8" r="5.2"/><circle cx="298.2" cy="1051.8" r="5.2"/><circle cx="283.6" cy="1016.8" r="5.2"/><circle cx="303.7" cy="1049.2" r="5.2"/><circle cx="293.2" cy="925.1" r="5.2"/><circle cx="306.1" cy="1068.9" r="5.2"/><circle cx="286" cy="933.8" r="5.2"/><circle cx="308.2" cy="993.4" r="5.2"/><circle cx="295.2" cy="867.2" r="5.2"/><circle cx="297.5" cy="1014.8" r="5.2"/><circle cx="282.3" cy="1057.4" r="5.2"/><circle cx="301.9" cy="1058.4" r="5.2"/><circle cx="296.6" cy="1033.9" r="5.2"/><circle cx="294.8" cy="1027.7" r="5.2"/><circle cx="276.4" cy="1062.1" r="5.2"/><circle cx="279.5" cy="1032.2" r="5.2"/><circle cx="304.2" cy="980.3" r="5.2"/><circle cx="297.9" cy="1061.3" r="5.2"/><circle cx="294.9" cy="1036.6" r="5.2"/><circle cx="275.6" cy="1075.8" r="5.2"/><circle cx="294.2" cy="882.1" r="5.2"/><circle cx="285.9" cy="996.3" r="5.2"/><circle cx="292.1" cy="930.8" r="5.2"/><circle cx="301.2" cy="792.8" r="5.2"/><circle cx="308.7" cy="911.5" r="5.2"/><circle cx="276.5" cy="1049.3" r="5.2"/><circle cx="281.8" cy="1056" r="5.2"/><circle cx="276.5" cy="1069.3" r="5.2"/><circle cx="307.4" cy="998.5" r="5.2"/><circle cx="310.5" cy="1018.1" r="5.2"/><circle cx="283" cy="843.5" r="5.2"/><circle cx="290.7" cy="989.1" r="5.2"/><circle cx="312" cy="1065.4" r="5.2"/><circle cx="296.6" cy="1048.9" r="5.2"/><circle cx="309.9" cy="978.2" r="5.2"/><circle cx="292.3" cy="1029.2" r="5.2"/><circle cx="312.2" cy="1060.9" r="5.2"/><circle cx="276.4" cy="1053.4" r="5.2"/><circle cx="288.5" cy="1049" r="5.2"/><circle cx="305.7" cy="850.9" r="5.2"/><circle cx="280.9" cy="901.1" r="5.2"/><circle cx="301" cy="927.5" r="5.2"/><circle cx="310.9" cy="976.5" r="5.2"/><circle cx="280.1" cy="1072.2" r="5.2"/><circle cx="308.6" cy="940.9" r="5.2"/><circle cx="297.6" cy="1043.2" r="5.2"/><circle cx="281.8" cy="939.7" r="5.2"/><circle cx="285" cy="1039.7" r="5.2"/><circle cx="293.4" cy="1064.9" r="5.2"/><circle cx="284" cy="1059.8" r="5.2"/><circle cx="301" cy="1062.8" r="5.2"/><circle cx="302.7" cy="1076.6" r="5.2"/><circle cx="276.3" cy="1056.7" r="5.2"/><circle cx="287.6" cy="822.1" r="5.2"/><circle cx="304" cy="813.2" r="5.2"/><circle cx="284.6" cy="864.1" r="5.2"/><circle cx="279.5" cy="1020.1" r="5.2"/><circle cx="303.5" cy="820.6" r="5.2"/><circle cx="292.7" cy="981.4" r="5.2"/><circle cx="306.3" cy="1037.4" r="5.2"/><circle cx="298.9" cy="1014.6" r="5.2"/><circle cx="283.3" cy="1062.8" r="5.2"/><circle cx="302.5" cy="1072.1" r="5.2"/><circle cx="281.7" cy="999.3" r="5.2"/><circle cx="287.9" cy="878.6" r="5.2"/><circle cx="281.5" cy="1026.1" r="5.2"/><circle cx="307.1" cy="1047" r="5.2"/><circle cx="281.7" cy="1038.2" r="5.2"/><circle cx="287.7" cy="1012.1" r="5.2"/><circle cx="284.2" cy="850.5" r="5.2"/><circle cx="286" cy="703.5" r="5.2"/><circle cx="299.3" cy="858.4" r="5.2"/><circle cx="293.3" cy="1054.7" r="5.2"/><circle cx="285" cy="1045" r="5.2"/><circle cx="288.9" cy="1055.9" r="5.2"/><circle cx="284.3" cy="825.5" r="5.2"/><circle cx="309.2" cy="1044.5" r="5.2"/><circle cx="303" cy="1072" r="5.2"/><circle cx="312.3" cy="1044" r="5.2"/><circle cx="306.2" cy="1076.2" r="5.2"/><circle cx="280.7" cy="1037.2" r="5.2"/><circle cx="307.3" cy="1077.6" r="5.2"/><circle cx="283" cy="1005" r="5.2"/><circle cx="309.3" cy="1022.2" r="5.2"/><circle cx="296.9" cy="1053.8" r="5.2"/><circle cx="281.7" cy="1063.3" r="5.2"/><circle cx="301.2" cy="934.5" r="5.2"/><circle cx="277.9" cy="1056.5" r="5.2"/><circle cx="298.4" cy="1068.9" r="5.2"/><circle cx="286.1" cy="1011.2" r="5.2"/><circle cx="298.5" cy="1055.3" r="5.2"/><circle cx="297" cy="915.3" r="5.2"/><circle cx="277.4" cy="1055.8" r="5.2"/><circle cx="291.4" cy="949.4" r="5.2"/><circle cx="279.8" cy="953.3" r="5.2"/><circle cx="289.4" cy="915.8" r="5.2"/><circle cx="305.4" cy="898.2" r="5.2"/><circle cx="276.8" cy="1011.7" r="5.2"/><circle cx="294" cy="843.2" r="5.2"/><circle cx="287.9" cy="877.7" r="5.2"/><circle cx="306.9" cy="1057.8" r="5.2"/><circle cx="281.7" cy="1033.3" r="5.2"/><circle cx="297.7" cy="1032.6" r="5.2"/><circle cx="294.9" cy="1077.3" r="5.2"/><circle cx="294.8" cy="1020.3" r="5.2"/><circle cx="302.5" cy="1065.3" r="5.2"/><circle cx="305.7" cy="912.7" r="5.2"/><circle cx="302.1" cy="1040.1" r="5.2"/><circle cx="303.5" cy="1031" r="5.2"/><circle cx="308.8" cy="1071.7" r="5.2"/><circle cx="294.7" cy="777.9" r="5.2"/><circle cx="295.4" cy="1007.7" r="5.2"/><circle cx="277.2" cy="1002.8" r="5.2"/><circle cx="289" cy="744.4" r="5.2"/><circle cx="278.8" cy="1058.2" r="5.2"/><circle cx="306.3" cy="1049.7" r="5.2"/><circle cx="278.1" cy="1074.8" r="5.2"/><circle cx="275.5" cy="1056.7" r="5.2"/><circle cx="297" cy="988.7" r="5.2"/><circle cx="301.5" cy="1005.8" r="5.2"/><circle cx="308.6" cy="1067.2" r="5.2"/><circle cx="279.4" cy="954.9" r="5.2"/><circle cx="293.9" cy="1065" r="5.2"/><circle cx="286.3" cy="1010.2" r="5.2"/><circle cx="290.4" cy="1065.1" r="5.2"/><circle cx="297.7" cy="1063.5" r="5.2"/><circle cx="284.3" cy="885.6" r="5.2"/><circle cx="303" cy="995" r="5.2"/><circle cx="306.8" cy="1060.3" r="5.2"/><circle cx="292" cy="807.8" r="5.2"/><circle cx="306.7" cy="1024.7" r="5.2"/><circle cx="290.5" cy="1005.2" r="5.2"/><circle cx="301.6" cy="801.8" r="5.2"/><circle cx="284.5" cy="1037.6" r="5.2"/><circle cx="291.8" cy="1038.1" r="5.2"/><circle cx="301.1" cy="690.8" r="5.2"/><circle cx="303.1" cy="840.3" r="5.2"/><circle cx="281.3" cy="894.6" r="5.2"/><circle cx="310.6" cy="1006.9" r="5.2"/><circle cx="288.5" cy="812.7" r="5.2"/><circle cx="299.1" cy="1024.4" r="5.2"/><circle cx="295.3" cy="1033.7" r="5.2"/><circle cx="291.5" cy="1070.8" r="5.2"/><circle cx="277" cy="1009.4" r="5.2"/><circle cx="312.4" cy="1063.2" r="5.2"/><circle cx="308.3" cy="931.9" r="5.2"/><circle cx="304.9" cy="980.2" r="5.2"/><circle cx="305.4" cy="867.8" r="5.2"/><circle cx="299.7" cy="1074.4" r="5.2"/><circle cx="300.9" cy="1047.7" r="5.2"/><circle cx="295.8" cy="1046.7" r="5.2"/><circle cx="297.8" cy="826.4" r="5.2"/><circle cx="294.9" cy="1049.7" r="5.2"/><circle cx="310.7" cy="1022.4" r="5.2"/><circle cx="286.8" cy="1044.8" r="5.2"/><circle cx="281.4" cy="976.3" r="5.2"/><circle cx="310.2" cy="990" r="5.2"/><circle cx="286" cy="1007.6" r="5.2"/><circle cx="295.5" cy="1016.7" r="5.2"/><circle cx="279.5" cy="1062.2" r="5.2"/><circle cx="286.1" cy="1064.1" r="5.2"/><circle cx="286.4" cy="1027" r="5.2"/><circle cx="278.4" cy="1050.6" r="5.2"/><circle cx="306.3" cy="1000.9" r="5.2"/><circle cx="296.7" cy="986.1" r="5.2"/><circle cx="284.2" cy="975.5" r="5.2"/><circle cx="293.1" cy="957.2" r="5.2"/><circle cx="298.3" cy="1000.5" r="5.2"/><circle cx="287.4" cy="1016.2" r="5.2"/><circle cx="283.5" cy="1050.8" r="5.2"/><circle cx="290.1" cy="1007.9" r="5.2"/><circle cx="277.2" cy="992" r="5.2"/><circle cx="307.7" cy="1035.5" r="5.2"/><circle cx="296.3" cy="1051.3" r="5.2"/><circle cx="286.5" cy="1012" r="5.2"/><circle cx="290.8" cy="651.1" r="5.2"/><circle cx="283.6" cy="933.8" r="5.2"/><circle cx="308.7" cy="1071.1" r="5.2"/><circle cx="278.2" cy="1021.4" r="5.2"/><circle cx="292" cy="1030" r="5.2"/><circle cx="281.7" cy="948.4" r="5.2"/><circle cx="311.8" cy="1053" r="5.2"/><circle cx="283.2" cy="947.2" r="5.2"/><circle cx="288.6" cy="1037.8" r="5.2"/><circle cx="306.4" cy="984.5" r="5.2"/><circle cx="295" cy="910.2" r="5.2"/><circle cx="302.3" cy="947.1" r="5.2"/><circle cx="293.6" cy="939" r="5.2"/><circle cx="301" cy="928.2" r="5.2"/><circle cx="284.8" cy="838.2" r="5.2"/><circle cx="280.3" cy="878.6" r="5.2"/><circle cx="297.2" cy="936.5" r="5.2"/><circle cx="310.9" cy="1010.7" r="5.2"/><circle cx="291.4" cy="995.2" r="5.2"/><circle cx="306.2" cy="928.8" r="5.2"/><circle cx="290.1" cy="986.8" r="5.2"/><circle cx="292.7" cy="1019.2" r="5.2"/><circle cx="287.6" cy="952.8" r="5.2"/><circle cx="296.3" cy="1029.6" r="5.2"/><circle cx="287.6" cy="1030.6" r="5.2"/><circle cx="305.4" cy="927.2" r="5.2"/><circle cx="292.2" cy="1010.4" r="5.2"/><circle cx="286.6" cy="1058" r="5.2"/><circle cx="297.1" cy="1062.6" r="5.2"/><circle cx="279.9" cy="993" r="5.2"/><circle cx="290.1" cy="831.7" r="5.2"/><circle cx="304.6" cy="897.3" r="5.2"/><circle cx="288.2" cy="767.4" r="5.2"/><circle cx="309.3" cy="1023.7" r="5.2"/><circle cx="276.1" cy="1076.8" r="5.2"/><circle cx="294.2" cy="996.8" r="5.2"/><circle cx="301.8" cy="831.5" r="5.2"/><circle cx="312" cy="1002.5" r="5.2"/><circle cx="294.9" cy="1006.9" r="5.2"/><circle cx="288.9" cy="1029.8" r="5.2"/><circle cx="289.1" cy="989.9" r="5.2"/><circle cx="299" cy="790.2" r="5.2"/><circle cx="279.9" cy="1005.3" r="5.2"/><circle cx="290.5" cy="1032.1" r="5.2"/><circle cx="296.9" cy="997.6" r="5.2"/><circle cx="307.8" cy="871.5" r="5.2"/><circle cx="292.1" cy="1012.9" r="5.2"/><circle cx="311.4" cy="982.4" r="5.2"/><circle cx="295.3" cy="1036.9" r="5.2"/><circle cx="284.4" cy="913.1" r="5.2"/><circle cx="312.2" cy="1040.5" r="5.2"/><circle cx="294.9" cy="907.5" r="5.2"/><circle cx="309.5" cy="1066.4" r="5.2"/><circle cx="309.4" cy="910.6" r="5.2"/><circle cx="292.4" cy="864.6" r="5.2"/><circle cx="286" cy="1061.2" r="5.2"/><circle cx="294.4" cy="1008" r="5.2"/><circle cx="281.9" cy="1057.5" r="5.2"/><circle cx="297.9" cy="981" r="5.2"/><circle cx="312.6" cy="1035.4" r="5.2"/><circle cx="278.6" cy="979.3" r="5.2"/><circle cx="304.8" cy="1026.2" r="5.2"/><circle cx="301.4" cy="1042.1" r="5.2"/><circle cx="286.3" cy="1077.4" r="5.2"/><circle cx="297.1" cy="898.1" r="5.2"/><circle cx="294.1" cy="1056.5" r="5.2"/><circle cx="286" cy="999.4" r="5.2"/><circle cx="295.4" cy="976.5" r="5.2"/><circle cx="291.2" cy="994.6" r="5.2"/><circle cx="280.7" cy="1065.2" r="5.2"/><circle cx="281.8" cy="939.1" r="5.2"/><circle cx="281.2" cy="1067.5" r="5.2"/><circle cx="305.8" cy="1005.8" r="5.2"/><circle cx="304.9" cy="985.4" r="5.2"/><circle cx="274.9" cy="1071.6" r="5.2"/><circle cx="288.8" cy="934.5" r="5.2"/><circle cx="289.6" cy="955.4" r="5.2"/><circle cx="285.1" cy="1059.7" r="5.2"/><circle cx="309.9" cy="1067.6" r="5.2"/><circle cx="289" cy="992.8" r="5.2"/><circle cx="290.1" cy="1019.6" r="5.2"/><circle cx="309.5" cy="1072.3" r="5.2"/><circle cx="310.4" cy="992.7" r="5.2"/><circle cx="298.6" cy="1021.4" r="5.2"/><circle cx="276.7" cy="1049.9" r="5.2"/><circle cx="303.7" cy="817.8" r="5.2"/><circle cx="309.2" cy="1041" r="5.2"/><circle cx="288.5" cy="913.1" r="5.2"/><circle cx="310.3" cy="988" r="5.2"/><circle cx="310.5" cy="1011.2" r="5.2"/><circle cx="289.9" cy="1050.7" r="5.2"/><circle cx="285.2" cy="954.4" r="5.2"/><circle cx="308.3" cy="1041.8" r="5.2"/><circle cx="304.8" cy="1013.3" r="5.2"/><circle cx="281.7" cy="1050.6" r="5.2"/><circle cx="282.5" cy="1034.6" r="5.2"/><circle cx="290.6" cy="731.3" r="5.2"/><circle cx="280.7" cy="997.5" r="5.2"/><circle cx="290.2" cy="1003.5" r="5.2"/><circle cx="278.2" cy="1027.6" r="5.2"/><circle cx="306.8" cy="1065" r="5.2"/><circle cx="284.7" cy="1035.7" r="5.2"/><circle cx="285.8" cy="1057.1" r="5.2"/><circle cx="276.4" cy="1051.4" r="5.2"/><circle cx="289" cy="971.5" r="5.2"/><circle cx="302.1" cy="1061.3" r="5.2"/><circle cx="285.1" cy="1068.3" r="5.2"/><circle cx="283.3" cy="902.4" r="5.2"/><circle cx="306.5" cy="1020.8" r="5.2"/><circle cx="283.9" cy="918.7" r="5.2"/><circle cx="302.5" cy="1035.4" r="5.2"/><circle cx="311.2" cy="1031.7" r="5.2"/><circle cx="311.5" cy="1055.1" r="5.2"/><circle cx="284.5" cy="1009.4" r="5.2"/><circle cx="280.8" cy="1019.1" r="5.2"/><circle cx="309.4" cy="1048.4" r="5.2"/><circle cx="289.7" cy="991.6" r="5.2"/><circle cx="298.3" cy="1050.3" r="5.2"/><circle cx="308.4" cy="1054.5" r="5.2"/><circle cx="294.6" cy="1065" r="5.2"/><circle cx="286.1" cy="1001.7" r="5.2"/><circle cx="290.8" cy="934" r="5.2"/><circle cx="296.6" cy="973.5" r="5.2"/><circle cx="290" cy="1041.6" r="5.2"/><circle cx="281.4" cy="1069" r="5.2"/><circle cx="289.3" cy="892.5" r="5.2"/><circle cx="281.1" cy="972" r="5.2"/><circle cx="289.4" cy="997.4" r="5.2"/><circle cx="286.9" cy="1010.3" r="5.2"/><circle cx="286.7" cy="1071.2" r="5.2"/><circle cx="279.8" cy="1052.8" r="5.2"/><circle cx="287.2" cy="955" r="5.2"/><circle cx="309.3" cy="1027.5" r="5.2"/><circle cx="306.6" cy="932.6" r="5.2"/><circle cx="283.9" cy="885.5" r="5.2"/><circle cx="276.3" cy="1046.3" r="5.2"/><circle cx="306.8" cy="680.9" r="5.2"/><circle cx="305.7" cy="676.2" r="5.2"/><circle cx="303.1" cy="729.9" r="5.2"/><circle cx="287.1" cy="737.8" r="5.2"/><circle cx="282.9" cy="727.2" r="5.2"/><circle cx="282.1" cy="754.5" r="5.2"/><circle cx="309.4" cy="708.4" r="5.2"/><circle cx="287.9" cy="694" r="5.2"/><circle cx="278" cy="692.6" r="5.2"/><circle cx="303.7" cy="729.1" r="5.2"/><circle cx="307.7" cy="680.1" r="5.2"/><circle cx="305.5" cy="669.1" r="5.2"/><circle cx="288.4" cy="652.9" r="5.2"/><circle cx="305.3" cy="754.8" r="5.2"/><circle cx="306.1" cy="734.4" r="5.2"/><circle cx="304.6" cy="677.2" r="5.2"/><circle cx="282.8" cy="641.4" r="5.2"/><circle cx="307.6" cy="647.5" r="5.2"/><circle cx="304.1" cy="707" r="5.2"/><circle cx="300.7" cy="661.3" r="5.2"/><circle cx="279.3" cy="699.2" r="5.2"/><circle cx="284.9" cy="649.7" r="5.2"/><circle cx="288.4" cy="701.4" r="5.2"/><circle cx="307.6" cy="664.1" r="5.2"/><circle cx="288" cy="738.6" r="5.2"/><circle cx="282.1" cy="695" r="5.2"/><circle cx="280.8" cy="645.5" r="5.2"/><circle cx="309" cy="735.4" r="5.2"/><circle cx="304.9" cy="743" r="5.2"/><circle cx="303.8" cy="730.7" r="5.2"/><circle cx="305.5" cy="743.5" r="5.2"/><circle cx="281.3" cy="675.7" r="5.2"/><circle cx="277.4" cy="719.8" r="5.2"/><circle cx="281.3" cy="739.2" r="5.2"/><circle cx="308.1" cy="688.6" r="5.2"/><circle cx="303.1" cy="734.9" r="5.2"/><circle cx="306.5" cy="757.7" r="5.2"/><circle cx="284.3" cy="726.1" r="5.2"/><circle cx="304.5" cy="746.1" r="5.2"/><circle cx="306.7" cy="720.9" r="5.2"/><circle cx="306.8" cy="692" r="5.2"/><circle cx="307.3" cy="757.9" r="5.2"/><circle cx="310.7" cy="749.3" r="5.2"/><circle cx="305.6" cy="746.4" r="5.2"/><circle cx="307.8" cy="646.3" r="5.2"/></g>
<g fill="#3a8ee2" stroke="#2f80d8" stroke-width="0.8"><circle cx="261.4" cy="1074.3" r="5.2"/><circle cx="264.1" cy="979.4" r="5.2"/><circle cx="261.9" cy="977.6" r="5.2"/><circle cx="272" cy="1009.4" r="5.2"/><circle cx="265.2" cy="1062.9" r="5.2"/><circle cx="269.4" cy="1072.8" r="5.2"/><circle cx="254.7" cy="1047.4" r="5.2"/><circle cx="260.6" cy="1058.4" r="5.2"/><circle cx="258.5" cy="978.5" r="5.2"/><circle cx="268.4" cy="1060.1" r="5.2"/><circle cx="255.1" cy="999.4" r="5.2"/><circle cx="265.2" cy="1044.3" r="5.2"/><circle cx="256.3" cy="1044.9" r="5.2"/><circle cx="263.7" cy="1039.9" r="5.2"/><circle cx="269.3" cy="989.4" r="5.2"/><circle cx="260.6" cy="1053.1" r="5.2"/><circle cx="269" cy="1012" r="5.2"/><circle cx="266.6" cy="990.7" r="5.2"/><circle cx="252.9" cy="976.5" r="5.2"/><circle cx="266.7" cy="1026.6" r="5.2"/><circle cx="272.1" cy="1047" r="5.2"/><circle cx="259.8" cy="1017.2" r="5.2"/><circle cx="265.3" cy="1060.6" r="5.2"/><circle cx="268.2" cy="1032.1" r="5.2"/><circle cx="271.3" cy="1071.8" r="5.2"/><circle cx="266.7" cy="1032.5" r="5.2"/><circle cx="258.3" cy="1074.7" r="5.2"/><circle cx="262.1" cy="988.3" r="5.2"/><circle cx="259.3" cy="1033.9" r="5.2"/><circle cx="266.3" cy="1048.7" r="5.2"/><circle cx="262.7" cy="1034.4" r="5.2"/><circle cx="259.5" cy="1043" r="5.2"/><circle cx="267" cy="990" r="5.2"/><circle cx="268.2" cy="981.1" r="5.2"/><circle cx="265.5" cy="1032.1" r="5.2"/><circle cx="268.6" cy="1019.1" r="5.2"/><circle cx="267.1" cy="1067.9" r="5.2"/><circle cx="248.3" cy="1044.6" r="5.2"/><circle cx="266.1" cy="980.6" r="5.2"/><circle cx="248.9" cy="985.5" r="5.2"/><circle cx="268.3" cy="1013" r="5.2"/><circle cx="259.2" cy="991.7" r="5.2"/><circle cx="267" cy="1014.1" r="5.2"/><circle cx="251.6" cy="1047.3" r="5.2"/><circle cx="262.3" cy="1028.1" r="5.2"/><circle cx="269.5" cy="1009.9" r="5.2"/><circle cx="264.1" cy="983.3" r="5.2"/><circle cx="266.9" cy="1072.8" r="5.2"/><circle cx="259.2" cy="1031.6" r="5.2"/><circle cx="267.4" cy="1067.9" r="5.2"/><circle cx="264.6" cy="1017.2" r="5.2"/><circle cx="260.4" cy="1034.9" r="5.2"/><circle cx="269.9" cy="1037" r="5.2"/><circle cx="263.9" cy="1065.2" r="5.2"/><circle cx="254.6" cy="1020.8" r="5.2"/><circle cx="267.5" cy="1065.4" r="5.2"/><circle cx="266.7" cy="1067" r="5.2"/><circle cx="272" cy="1022.7" r="5.2"/><circle cx="261.4" cy="1020.2" r="5.2"/><circle cx="268.1" cy="1054.4" r="5.2"/><circle cx="270.1" cy="1024.6" r="5.2"/><circle cx="263.8" cy="1016.4" r="5.2"/><circle cx="267.5" cy="1068.9" r="5.2"/><circle cx="264.5" cy="1032.5" r="5.2"/><circle cx="263.3" cy="1002.5" r="5.2"/><circle cx="250.9" cy="997.8" r="5.2"/><circle cx="253.5" cy="1001.7" r="5.2"/><circle cx="267.7" cy="1066.3" r="5.2"/><circle cx="264.1" cy="1059.8" r="5.2"/><circle cx="257.4" cy="974.7" r="5.2"/><circle cx="266" cy="1063.1" r="5.2"/><circle cx="265.8" cy="995.6" r="5.2"/><circle cx="269.7" cy="1039.5" r="5.2"/><circle cx="266.8" cy="1073.8" r="5.2"/><circle cx="268.5" cy="1047" r="5.2"/><circle cx="254.8" cy="1003.3" r="5.2"/><circle cx="263.4" cy="1012.8" r="5.2"/><circle cx="253.1" cy="984.8" r="5.2"/><circle cx="264.2" cy="984.9" r="5.2"/><circle cx="271.9" cy="1060.1" r="5.2"/><circle cx="263.7" cy="997" r="5.2"/><circle cx="269.9" cy="1006.3" r="5.2"/><circle cx="267.9" cy="1039.5" r="5.2"/><circle cx="258.1" cy="1000" r="5.2"/><circle cx="267.4" cy="1071.5" r="5.2"/><circle cx="262.7" cy="1014.7" r="5.2"/><circle cx="265.3" cy="992.6" r="5.2"/><circle cx="259.8" cy="1065.3" r="5.2"/><circle cx="265.9" cy="1051.6" r="5.2"/><circle cx="255.5" cy="1057.7" r="5.2"/><circle cx="266.3" cy="1017.2" r="5.2"/><circle cx="267.7" cy="1065.3" r="5.2"/><circle cx="271.5" cy="992.8" r="5.2"/><circle cx="264.9" cy="1058.5" r="5.2"/><circle cx="269.6" cy="1005.5" r="5.2"/><circle cx="260.5" cy="1038.6" r="5.2"/><circle cx="257.3" cy="1021.8" r="5.2"/><circle cx="264.1" cy="1005.3" r="5.2"/><circle cx="251.1" cy="1073.9" r="5.2"/><circle cx="265.8" cy="1042.6" r="5.2"/><circle cx="263.3" cy="984.7" r="5.2"/><circle cx="266.4" cy="992.9" r="5.2"/><circle cx="270.8" cy="990.9" r="5.2"/><circle cx="263.9" cy="1006.4" r="5.2"/><circle cx="265.6" cy="1061.1" r="5.2"/><circle cx="257.4" cy="987.8" r="5.2"/><circle cx="260.5" cy="1014" r="5.2"/><circle cx="269" cy="1068.7" r="5.2"/><circle cx="266.4" cy="982.3" r="5.2"/><circle cx="266.7" cy="1016.3" r="5.2"/><circle cx="270.6" cy="1040.7" r="5.2"/><circle cx="264" cy="1029.4" r="5.2"/><circle cx="267.9" cy="1041.5" r="5.2"/><circle cx="264.8" cy="1074.5" r="5.2"/><circle cx="268.1" cy="1073.4" r="5.2"/><circle cx="269.3" cy="1030.3" r="5.2"/><circle cx="271.9" cy="1062.3" r="5.2"/><circle cx="271.1" cy="1007.3" r="5.2"/><circle cx="264.8" cy="1026" r="5.2"/><circle cx="261.9" cy="1050.8" r="5.2"/><circle cx="267.4" cy="975.1" r="5.2"/><circle cx="260.6" cy="971" r="5.2"/><circle cx="269.6" cy="996.2" r="5.2"/><circle cx="270.1" cy="984.7" r="5.2"/><circle cx="259.2" cy="1011.3" r="5.2"/><circle cx="268.9" cy="1040.5" r="5.2"/><circle cx="256" cy="984.7" r="5.2"/><circle cx="268.8" cy="977.2" r="5.2"/><circle cx="265" cy="997" r="5.2"/><circle cx="259" cy="999.7" r="5.2"/><circle cx="271.4" cy="1041.8" r="5.2"/><circle cx="269.4" cy="1020.5" r="5.2"/><circle cx="270.3" cy="1043.2" r="5.2"/><circle cx="261.6" cy="1044.6" r="5.2"/><circle cx="271.3" cy="1040.1" r="5.2"/><circle cx="271.3" cy="1052.7" r="5.2"/><circle cx="263.6" cy="1063.2" r="5.2"/><circle cx="265.1" cy="1074.4" r="5.2"/><circle cx="264.8" cy="1031.8" r="5.2"/><circle cx="270.3" cy="1018.6" r="5.2"/><circle cx="266.8" cy="1069.6" r="5.2"/><circle cx="266.8" cy="1046.8" r="5.2"/><circle cx="258.2" cy="1020.5" r="5.2"/><circle cx="260.9" cy="977.3" r="5.2"/><circle cx="254.6" cy="1017" r="5.2"/><circle cx="266.8" cy="1068.3" r="5.2"/><circle cx="261.2" cy="971.6" r="5.2"/><circle cx="270.6" cy="1041.1" r="5.2"/><circle cx="262.5" cy="985.2" r="5.2"/><circle cx="252.5" cy="1069.4" r="5.2"/><circle cx="270.8" cy="900.7" r="5.2"/><circle cx="268.5" cy="904.4" r="5.2"/><circle cx="271.6" cy="902.3" r="5.2"/><circle cx="270.9" cy="813.5" r="5.2"/><circle cx="266.1" cy="916.1" r="5.2"/><circle cx="266.4" cy="834.1" r="5.2"/><circle cx="265.5" cy="916.8" r="5.2"/><circle cx="264.2" cy="807.5" r="5.2"/><circle cx="270.2" cy="940.7" r="5.2"/><circle cx="268.2" cy="792.1" r="5.2"/><circle cx="268.2" cy="929" r="5.2"/><circle cx="260.1" cy="918.5" r="5.2"/><circle cx="269.3" cy="826.6" r="5.2"/><circle cx="270.8" cy="769" r="5.2"/><circle cx="266.9" cy="804.3" r="5.2"/><circle cx="264.6" cy="824.8" r="5.2"/><circle cx="267" cy="888.1" r="5.2"/><circle cx="270.5" cy="945.2" r="5.2"/><circle cx="271.2" cy="829.4" r="5.2"/><circle cx="264" cy="888.8" r="5.2"/><circle cx="271.8" cy="904.5" r="5.2"/><circle cx="258.4" cy="862.5" r="5.2"/><circle cx="270.9" cy="842" r="5.2"/><circle cx="264.3" cy="755.8" r="5.2"/><circle cx="269.2" cy="809.5" r="5.2"/><circle cx="269.2" cy="889.8" r="5.2"/><circle cx="270.2" cy="927.8" r="5.2"/><circle cx="262.8" cy="800.7" r="5.2"/><circle cx="266.2" cy="870.7" r="5.2"/><circle cx="265.6" cy="847.2" r="5.2"/><circle cx="268.1" cy="823" r="5.2"/><circle cx="267.3" cy="834.4" r="5.2"/><circle cx="263.4" cy="904.4" r="5.2"/><circle cx="271.2" cy="812" r="5.2"/><circle cx="261.7" cy="893.9" r="5.2"/><circle cx="265.5" cy="799.6" r="5.2"/><circle cx="271.2" cy="900.2" r="5.2"/><circle cx="269.1" cy="850.3" r="5.2"/><circle cx="270.9" cy="955" r="5.2"/><circle cx="266.3" cy="860" r="5.2"/><circle cx="263.5" cy="883.1" r="5.2"/><circle cx="270.7" cy="755.4" r="5.2"/><circle cx="262.1" cy="938.5" r="5.2"/><circle cx="270.7" cy="951.2" r="5.2"/><circle cx="270.5" cy="854.7" r="5.2"/><circle cx="266.2" cy="843.8" r="5.2"/><circle cx="259.1" cy="882.4" r="5.2"/><circle cx="267.8" cy="926.5" r="5.2"/><circle cx="263.3" cy="769.3" r="5.2"/><circle cx="261.8" cy="923.9" r="5.2"/><circle cx="270.2" cy="907.5" r="5.2"/><circle cx="263.5" cy="756.9" r="5.2"/><circle cx="272" cy="886.8" r="5.2"/><circle cx="266.9" cy="793.9" r="5.2"/><circle cx="270.8" cy="772.9" r="5.2"/><circle cx="270.8" cy="763.7" r="5.2"/><circle cx="271.3" cy="764.2" r="5.2"/><circle cx="267.3" cy="763" r="5.2"/><circle cx="271.4" cy="764.7" r="5.2"/><circle cx="267.2" cy="762.6" r="5.2"/><circle cx="260.7" cy="764.3" r="5.2"/><circle cx="269.4" cy="766.6" r="5.2"/><circle cx="268.9" cy="765.5" r="5.2"/><circle cx="269.3" cy="766.9" r="5.2"/><circle cx="263" cy="764.3" r="5.2"/><circle cx="268.5" cy="762.2" r="5.2"/><circle cx="269.5" cy="764.7" r="5.2"/><circle cx="271" cy="720.2" r="5.2"/><circle cx="265.9" cy="743" r="5.2"/><circle cx="263.6" cy="641.2" r="5.2"/><circle cx="237" cy="658.9" r="5.2"/><circle cx="257.2" cy="658.9" r="5.2"/><circle cx="270.3" cy="656" r="5.2"/><circle cx="270.7" cy="682.5" r="5.2"/><circle cx="235.9" cy="691.4" r="5.2"/><circle cx="268.2" cy="698.7" r="5.2"/><circle cx="255.1" cy="738.6" r="5.2"/><circle cx="265.4" cy="741.5" r="5.2"/><circle cx="264.3" cy="757.7" r="5.2"/><circle cx="127.5" cy="1027.4" r="5.2"/><circle cx="194.5" cy="937.7" r="5.2"/><circle cx="225" cy="910.2" r="5.2"/><circle cx="228.1" cy="914.7" r="5.2"/><circle cx="250.8" cy="914.7" r="5.2"/><circle cx="241.3" cy="878.7" r="5.2"/><circle cx="246.9" cy="854.5" r="5.2"/><circle cx="255.4" cy="813.2" r="5.2"/><circle cx="237.4" cy="765.4" r="5.2"/><circle cx="242.3" cy="765.1" r="5.2"/><circle cx="253" cy="766.6" r="5.2"/><circle cx="235.9" cy="690.2" r="5.2"/><circle cx="237.4" cy="658.6" r="5.2"/><circle cx="270.3" cy="682.5" r="5.2"/><circle cx="269.6" cy="698.1" r="5.2"/><circle cx="263.9" cy="641.2" r="5.2"/><circle cx="258.3" cy="658.9" r="5.2"/><circle cx="269.3" cy="656" r="5.2"/><circle cx="255.4" cy="738.6" r="5.2"/><circle cx="265" cy="741.5" r="5.2"/><circle cx="216.8" cy="1019.7" r="5.2"/><circle cx="223.2" cy="1003.2" r="5.2"/><circle cx="215.4" cy="1055.7" r="5.2"/><circle cx="231" cy="1055.7" r="5.2"/><circle cx="239.1" cy="1073.4" r="5.2"/><circle cx="238.1" cy="990.2" r="5.2"/><circle cx="247.6" cy="993.4" r="5.2"/><circle cx="242.3" cy="1012.9" r="5.2"/><circle cx="221.1" cy="1010" r="5.2"/><circle cx="235.2" cy="1036.5" r="5.2"/><circle cx="228.1" cy="1045.4" r="5.2"/></g>
<g fill="#f2281e"><circle cx="320.6" cy="998.4" r="5.2"/><circle cx="324.5" cy="1043.8" r="5.2"/><circle cx="321.7" cy="1027.5" r="5.2"/><circle cx="320.8" cy="1006" r="5.2"/><circle cx="330.2" cy="1015.4" r="5.2"/><circle cx="320.8" cy="983.5" r="5.2"/><circle cx="324.3" cy="1056.1" r="5.2"/><circle cx="323.5" cy="995.2" r="5.2"/><circle cx="325.5" cy="985.8" r="5.2"/><circle cx="336.1" cy="970.7" r="5.2"/><circle cx="321.9" cy="1047.2" r="5.2"/><circle cx="317.6" cy="973.1" r="5.2"/><circle cx="321.9" cy="1074.2" r="5.2"/><circle cx="320" cy="1000.1" r="5.2"/><circle cx="324.6" cy="1066.8" r="5.2"/><circle cx="330.8" cy="1067.4" r="5.2"/><circle cx="331.5" cy="1042.9" r="5.2"/><circle cx="325" cy="983.6" r="5.2"/><circle cx="324.4" cy="972.5" r="5.2"/><circle cx="318.4" cy="993.8" r="5.2"/><circle cx="329" cy="1005.3" r="5.2"/><circle cx="319.7" cy="1053.9" r="5.2"/><circle cx="318.5" cy="1033.4" r="5.2"/><circle cx="318.1" cy="971.2" r="5.2"/><circle cx="320.7" cy="1045.3" r="5.2"/><circle cx="320.5" cy="1027.4" r="5.2"/><circle cx="322.8" cy="1063.2" r="5.2"/><circle cx="319.7" cy="1005.7" r="5.2"/><circle cx="317.7" cy="1062.1" r="5.2"/><circle cx="329.3" cy="1065.4" r="5.2"/><circle cx="340.6" cy="1041.5" r="5.2"/><circle cx="317.3" cy="1041.9" r="5.2"/><circle cx="338.3" cy="1055.5" r="5.2"/><circle cx="321.2" cy="1000.6" r="5.2"/><circle cx="320.5" cy="1049.7" r="5.2"/><circle cx="324.3" cy="1069.3" r="5.2"/><circle cx="327.6" cy="1071.5" r="5.2"/><circle cx="317.4" cy="1019.9" r="5.2"/><circle cx="333" cy="1040.5" r="5.2"/><circle cx="317.8" cy="1009.3" r="5.2"/><circle cx="332.3" cy="1021.2" r="5.2"/><circle cx="321.7" cy="972.2" r="5.2"/><circle cx="318.9" cy="984.5" r="5.2"/><circle cx="327.3" cy="1045.1" r="5.2"/><circle cx="327.1" cy="1034.6" r="5.2"/><circle cx="318.6" cy="1038.2" r="5.2"/><circle cx="340.5" cy="1035.6" r="5.2"/><circle cx="346.6" cy="1074.5" r="5.2"/><circle cx="324.1" cy="1014.3" r="5.2"/><circle cx="320.4" cy="1013.9" r="5.2"/><circle cx="317.2" cy="1039" r="5.2"/><circle cx="323.8" cy="1065" r="5.2"/><circle cx="321.7" cy="988.1" r="5.2"/><circle cx="339.5" cy="1071" r="5.2"/><circle cx="323.7" cy="1004.8" r="5.2"/><circle cx="330.5" cy="1020.7" r="5.2"/><circle cx="317.2" cy="1045.4" r="5.2"/><circle cx="316.9" cy="999" r="5.2"/><circle cx="331" cy="986.9" r="5.2"/><circle cx="317.7" cy="970.7" r="5.2"/><circle cx="328.8" cy="1053.6" r="5.2"/><circle cx="329.5" cy="1038.8" r="5.2"/><circle cx="327" cy="1002.8" r="5.2"/><circle cx="324.8" cy="1013.7" r="5.2"/><circle cx="323.3" cy="1006.6" r="5.2"/><circle cx="330.2" cy="1021.3" r="5.2"/><circle cx="323.1" cy="1054.7" r="5.2"/><circle cx="322.2" cy="980.6" r="5.2"/><circle cx="319.1" cy="1028.9" r="5.2"/><circle cx="329.5" cy="1028.5" r="5.2"/><circle cx="332" cy="1054.9" r="5.2"/><circle cx="335.7" cy="1022.9" r="5.2"/><circle cx="336" cy="1023.4" r="5.2"/><circle cx="320.1" cy="1053.2" r="5.2"/><circle cx="321.9" cy="1059.7" r="5.2"/><circle cx="327.4" cy="1010.7" r="5.2"/><circle cx="333.6" cy="989.8" r="5.2"/><circle cx="330" cy="1071.5" r="5.2"/><circle cx="326.5" cy="1038.6" r="5.2"/><circle cx="333.8" cy="1064.4" r="5.2"/><circle cx="316.8" cy="1061.5" r="5.2"/><circle cx="321.7" cy="1041.2" r="5.2"/><circle cx="328.3" cy="992.6" r="5.2"/><circle cx="318.3" cy="1067.6" r="5.2"/><circle cx="333.2" cy="1037.1" r="5.2"/><circle cx="317.1" cy="1031.4" r="5.2"/><circle cx="322.1" cy="1028.3" r="5.2"/><circle cx="333.9" cy="1061.9" r="5.2"/><circle cx="325.4" cy="1006.3" r="5.2"/><circle cx="326.3" cy="1053.3" r="5.2"/><circle cx="322.4" cy="1039.7" r="5.2"/><circle cx="325.6" cy="1073.6" r="5.2"/><circle cx="320.1" cy="1056.9" r="5.2"/><circle cx="318.3" cy="1059.1" r="5.2"/><circle cx="318.2" cy="1002.1" r="5.2"/><circle cx="326.1" cy="1052.9" r="5.2"/><circle cx="329.5" cy="989.1" r="5.2"/><circle cx="325" cy="986.3" r="5.2"/><circle cx="333.5" cy="1056.9" r="5.2"/><circle cx="325.5" cy="1013.2" r="5.2"/><circle cx="327.8" cy="1039.6" r="5.2"/><circle cx="319.9" cy="1040.1" r="5.2"/><circle cx="319.8" cy="1002.7" r="5.2"/><circle cx="327.2" cy="1009.8" r="5.2"/><circle cx="323.1" cy="991.7" r="5.2"/><circle cx="325.2" cy="1017.5" r="5.2"/><circle cx="326.9" cy="978.8" r="5.2"/><circle cx="343.2" cy="1002.8" r="5.2"/><circle cx="321.6" cy="1039.5" r="5.2"/><circle cx="325" cy="1069.2" r="5.2"/><circle cx="326.2" cy="997.9" r="5.2"/><circle cx="325.7" cy="1026.4" r="5.2"/><circle cx="316.9" cy="981.4" r="5.2"/><circle cx="319.2" cy="1015.9" r="5.2"/><circle cx="336.5" cy="1030" r="5.2"/><circle cx="321.6" cy="1035.1" r="5.2"/><circle cx="325.6" cy="1028.8" r="5.2"/><circle cx="324" cy="1026.9" r="5.2"/><circle cx="323.9" cy="1024.7" r="5.2"/><circle cx="330.9" cy="999.6" r="5.2"/><circle cx="332.3" cy="1036.5" r="5.2"/><circle cx="320.8" cy="1020.2" r="5.2"/><circle cx="317.4" cy="996.4" r="5.2"/><circle cx="322.1" cy="1055" r="5.2"/><circle cx="318.8" cy="1068.6" r="5.2"/><circle cx="321.3" cy="1067.6" r="5.2"/><circle cx="320.1" cy="998.2" r="5.2"/><circle cx="318.2" cy="1006.2" r="5.2"/><circle cx="320.3" cy="1002.9" r="5.2"/><circle cx="317.2" cy="1005.1" r="5.2"/><circle cx="349.3" cy="1034.7" r="5.2"/><circle cx="335.7" cy="991" r="5.2"/><circle cx="322.6" cy="984.8" r="5.2"/><circle cx="324.4" cy="1024" r="5.2"/><circle cx="325.3" cy="1074.5" r="5.2"/><circle cx="317.4" cy="1050.8" r="5.2"/><circle cx="317.4" cy="1045.7" r="5.2"/><circle cx="337.8" cy="1020" r="5.2"/><circle cx="319.8" cy="1024.8" r="5.2"/><circle cx="318.4" cy="1046.5" r="5.2"/><circle cx="323.5" cy="985.4" r="5.2"/><circle cx="336.6" cy="1051.3" r="5.2"/><circle cx="329.3" cy="1056.8" r="5.2"/><circle cx="321" cy="1039.4" r="5.2"/><circle cx="330.8" cy="1029.8" r="5.2"/><circle cx="317.7" cy="1040.2" r="5.2"/><circle cx="324.1" cy="992.8" r="5.2"/><circle cx="339.5" cy="1019.9" r="5.2"/><circle cx="321.9" cy="1070.9" r="5.2"/><circle cx="328.8" cy="1035.7" r="5.2"/><circle cx="320.6" cy="1019" r="5.2"/><circle cx="324.4" cy="993.4" r="5.2"/><circle cx="321.5" cy="1047.9" r="5.2"/><circle cx="335.3" cy="1016" r="5.2"/><circle cx="327.4" cy="1030.8" r="5.2"/><circle cx="321.4" cy="984.1" r="5.2"/><circle cx="330.7" cy="1070.3" r="5.2"/><circle cx="322.9" cy="1071.1" r="5.2"/><circle cx="329.7" cy="985.8" r="5.2"/><circle cx="323" cy="1059" r="5.2"/><circle cx="334.5" cy="979" r="5.2"/><circle cx="323.9" cy="1026.2" r="5.2"/><circle cx="320.8" cy="1007" r="5.2"/><circle cx="324.7" cy="1055.9" r="5.2"/><circle cx="331.3" cy="988.6" r="5.2"/><circle cx="335.6" cy="1056.3" r="5.2"/><circle cx="332.2" cy="1066.5" r="5.2"/><circle cx="327.3" cy="975.8" r="5.2"/><circle cx="321.2" cy="1035.1" r="5.2"/><circle cx="323.7" cy="980.9" r="5.2"/><circle cx="318.8" cy="817.2" r="5.2"/><circle cx="319.8" cy="815.2" r="5.2"/><circle cx="321.3" cy="948.4" r="5.2"/><circle cx="324.4" cy="909.5" r="5.2"/><circle cx="322.5" cy="838.4" r="5.2"/><circle cx="329.2" cy="925.5" r="5.2"/><circle cx="326" cy="771.2" r="5.2"/><circle cx="335" cy="925.9" r="5.2"/><circle cx="327.3" cy="794.1" r="5.2"/><circle cx="318.1" cy="950.1" r="5.2"/><circle cx="321.6" cy="879.5" r="5.2"/><circle cx="322.6" cy="845.8" r="5.2"/><circle cx="333.5" cy="937.8" r="5.2"/><circle cx="320.6" cy="869.4" r="5.2"/><circle cx="331.8" cy="818.7" r="5.2"/><circle cx="329.9" cy="932" r="5.2"/><circle cx="341.9" cy="768.9" r="5.2"/><circle cx="317.4" cy="849.7" r="5.2"/><circle cx="327" cy="897.7" r="5.2"/><circle cx="331.2" cy="855.8" r="5.2"/><circle cx="327" cy="767.6" r="5.2"/><circle cx="323.5" cy="781" r="5.2"/><circle cx="321.2" cy="835.2" r="5.2"/><circle cx="317.9" cy="928.4" r="5.2"/><circle cx="332.9" cy="901.7" r="5.2"/><circle cx="329.6" cy="910.6" r="5.2"/><circle cx="330.8" cy="768.6" r="5.2"/><circle cx="319.7" cy="759.9" r="5.2"/><circle cx="331.4" cy="886.8" r="5.2"/><circle cx="322.1" cy="946.7" r="5.2"/><circle cx="324.4" cy="889" r="5.2"/><circle cx="319.3" cy="805.7" r="5.2"/><circle cx="318.9" cy="920.4" r="5.2"/><circle cx="325.5" cy="942.7" r="5.2"/><circle cx="327.9" cy="843" r="5.2"/><circle cx="324.4" cy="796.5" r="5.2"/><circle cx="319.5" cy="835.6" r="5.2"/><circle cx="317.4" cy="852.4" r="5.2"/><circle cx="320.2" cy="937.1" r="5.2"/><circle cx="321.3" cy="839.2" r="5.2"/><circle cx="327.8" cy="885" r="5.2"/><circle cx="327.9" cy="923.5" r="5.2"/><circle cx="325.7" cy="922.3" r="5.2"/><circle cx="320.2" cy="785.4" r="5.2"/><circle cx="322.8" cy="779.1" r="5.2"/><circle cx="317.5" cy="937.7" r="5.2"/><circle cx="326" cy="777.9" r="5.2"/><circle cx="325.1" cy="847.7" r="5.2"/><circle cx="323" cy="932.9" r="5.2"/><circle cx="318" cy="847.9" r="5.2"/><circle cx="321.5" cy="853.7" r="5.2"/><circle cx="322" cy="874.7" r="5.2"/><circle cx="322.3" cy="915.4" r="5.2"/><circle cx="322.4" cy="779.5" r="5.2"/><circle cx="318.2" cy="854.7" r="5.2"/><circle cx="317.9" cy="764.8" r="5.2"/><circle cx="320.3" cy="857.4" r="5.2"/><circle cx="330.1" cy="816.6" r="5.2"/><circle cx="316.8" cy="910.2" r="5.2"/><circle cx="322.9" cy="903.1" r="5.2"/><circle cx="326.8" cy="950.6" r="5.2"/><circle cx="324.8" cy="897.4" r="5.2"/><circle cx="328.8" cy="775.6" r="5.2"/><circle cx="323.8" cy="909.2" r="5.2"/><circle cx="320.3" cy="835.7" r="5.2"/><circle cx="333.1" cy="944.2" r="5.2"/><circle cx="341.4" cy="906.8" r="5.2"/><circle cx="334.5" cy="948.5" r="5.2"/><circle cx="323.7" cy="831" r="5.2"/><circle cx="335" cy="887.2" r="5.2"/><circle cx="334" cy="765.3" r="5.2"/><circle cx="336.4" cy="768" r="5.2"/><circle cx="336.8" cy="765.6" r="5.2"/><circle cx="325.4" cy="767.5" r="5.2"/><circle cx="322" cy="763.7" r="5.2"/><circle cx="331.2" cy="767.2" r="5.2"/><circle cx="324.1" cy="767.2" r="5.2"/><circle cx="321" cy="766.8" r="5.2"/><circle cx="323.8" cy="762.3" r="5.2"/><circle cx="338" cy="763.4" r="5.2"/><circle cx="327" cy="765.1" r="5.2"/><circle cx="333.3" cy="762.7" r="5.2"/><circle cx="322.1" cy="728.9" r="5.2"/><circle cx="318.2" cy="729.3" r="5.2"/><circle cx="323.9" cy="641.2" r="5.2"/><circle cx="320.3" cy="641.2" r="5.2"/><circle cx="317.5" cy="656" r="5.2"/><circle cx="321" cy="660.4" r="5.2"/><circle cx="327.4" cy="685.5" r="5.2"/><circle cx="330.2" cy="720.9" r="5.2"/><circle cx="316.1" cy="737.1" r="5.2"/><circle cx="332" cy="744.5" r="5.2"/><circle cx="324.6" cy="750.4" r="5.2"/><circle cx="389.8" cy="764.8" r="5.2"/><circle cx="389.8" cy="864.2" r="5.2"/><circle cx="370.7" cy="873.7" r="5.2"/><circle cx="392.6" cy="946.2" r="5.2"/><circle cx="373.8" cy="954.2" r="5.2"/><circle cx="385.5" cy="987.5" r="5.2"/><circle cx="373.1" cy="1040.6" r="5.2"/><circle cx="374.2" cy="1038" r="5.2"/><circle cx="355.8" cy="1030.6" r="5.2"/><circle cx="345.8" cy="1012.9" r="5.2"/><circle cx="360.7" cy="983.4" r="5.2"/><circle cx="349" cy="925.9" r="5.2"/><circle cx="345.8" cy="890.5" r="5.2"/><circle cx="329.9" cy="883.1" r="5.2"/><circle cx="352.2" cy="765.1" r="5.2"/><circle cx="346.9" cy="765.1" r="5.2"/><circle cx="339.8" cy="765.1" r="5.2"/><circle cx="324.6" cy="641.2" r="5.2"/><circle cx="320" cy="641.2" r="5.2"/><circle cx="316.8" cy="656" r="5.2"/><circle cx="319.6" cy="664.8" r="5.2"/><circle cx="326.7" cy="685.5" r="5.2"/><circle cx="328.5" cy="721.4" r="5.2"/><circle cx="316.8" cy="738.6" r="5.2"/><circle cx="325.6" cy="747.4" r="5.2"/><circle cx="344.8" cy="1075.1" r="5.2"/><circle cx="362.9" cy="1027.7" r="5.2"/><circle cx="350.4" cy="977.5" r="5.2"/><circle cx="341.6" cy="841.8" r="5.2"/><circle cx="334.5" cy="833" r="5.2"/></g>
<text x="533.5" y="544.1" font-size="25.9" text-anchor="start" font-family="'Liberation Sans', Arial, sans-serif" >Regulated. Type</text>
<circle cx="551.5" cy="574.8" r="4.8" fill="#f0f0f0" stroke="#e2e2e2" stroke-width="0.8"/>
<circle cx="551.5" cy="609.6" r="5" fill="#3a8ee2" stroke="#2f80d8" stroke-width="0.8"/>
<circle cx="551.5" cy="644.4" r="5" fill="#f2281e"/>
<text x="580" y="582.2" font-size="25.8" text-anchor="start" font-family="'Liberation Sans', Arial, sans-serif" >unchange</text>
<text x="580" y="618.4" font-size="25.8" text-anchor="start" font-family="'Liberation Sans', Arial, sans-serif" >down</text>
<text x="580" y="651.8" font-size="25.8" text-anchor="start" font-family="'Liberation Sans', Arial, sans-serif" >up</text>
<text x="742.6" y="456.2" font-size="30.5" text-anchor="start" font-family="'Liberation Sans', Arial, sans-serif" >D</text>
<rect x="889.5" y="451.5" width="144.5" height="36.2" fill="rgb(38,238,38)"/>
<rect x="1034" y="451.5" width="144.5" height="36.2" fill="rgb(240,38,38)"/>
<rect x="889.5" y="487.1" width="144.5" height="36.2" fill="rgb(36,232,36)"/>
<rect x="1034" y="487.1" width="144.5" height="36.2" fill="rgb(236,36,36)"/>
<rect x="889.5" y="522.7" width="144.5" height="36.2" fill="rgb(33,222,33)"/>
<rect x="1034" y="522.7" width="144.5" height="36.2" fill="rgb(230,34,34)"/>
<rect x="889.5" y="558.3" width="144.5" height="36.2" fill="rgb(31,212,31)"/>
<rect x="1034" y="558.3" width="144.5" height="36.2" fill="rgb(214,30,30)"/>
<rect x="889.5" y="593.9" width="144.5" height="36.2" fill="rgb(30,206,30)"/>
<rect x="1034" y="593.9" width="144.5" height="36.2" fill="rgb(220,32,32)"/>
<rect x="889.5" y="629.5" width="144.5" height="36.2" fill="rgb(26,190,26)"/>
<rect x="1034" y="629.5" width="144.5" height="36.2" fill="rgb(194,26,26)"/>
<rect x="889.5" y="665.1" width="144.5" height="36.2" fill="rgb(24,184,24)"/>
<rect x="1034" y="665.1" width="144.5" height="36.2" fill="rgb(190,25,25)"/>
<rect x="889.5" y="700.7" width="144.5" height="36.2" fill="rgb(23,180,23)"/>
<rect x="1034" y="700.7" width="144.5" height="36.2" fill="rgb(186,24,24)"/>
<rect x="889.5" y="736.3" width="144.5" height="36.2" fill="rgb(22,178,22)"/>
<rect x="1034" y="736.3" width="144.5" height="36.2" fill="rgb(184,23,23)"/>
<rect x="889.5" y="771.9" width="144.5" height="36.2" fill="rgb(21,175,21)"/>
<rect x="1034" y="771.9" width="144.5" height="36.2" fill="rgb(186,24,24)"/>
<rect x="889.5" y="807.5" width="144.5" height="36.2" fill="rgb(204,28,28)"/>
<rect x="1034" y="807.5" width="144.5" height="36.2" fill="rgb(26,186,26)"/>
<rect x="889.5" y="843.1" width="144.5" height="36.2" fill="rgb(208,29,29)"/>
<rect x="1034" y="843.1" width="144.5" height="36.2" fill="rgb(27,192,27)"/>
<rect x="889.5" y="878.7" width="144.5" height="36.2" fill="rgb(212,30,30)"/>
<rect x="1034" y="878.7" width="144.5" height="36.2" fill="rgb(28,198,28)"/>
<rect x="889.5" y="914.3" width="144.5" height="36.2" fill="rgb(214,30,30)"/>
<rect x="1034" y="914.3" width="144.5" height="36.2" fill="rgb(29,204,29)"/>
<rect x="889.5" y="949.9" width="144.5" height="36.2" fill="rgb(218,31,31)"/>
<rect x="1034" y="949.9" width="144.5" height="36.2" fill="rgb(30,210,30)"/>
<rect x="889.5" y="985.5" width="144.5" height="36.2" fill="rgb(222,32,32)"/>
<rect x="1034" y="985.5" width="144.5" height="36.2" fill="rgb(31,216,31)"/>
<rect x="889.5" y="1021.1" width="144.5" height="36.2" fill="rgb(226,33,33)"/>
<rect x="1034" y="1021.1" width="144.5" height="36.2" fill="rgb(32,221,32)"/>
<rect x="889.5" y="1056.7" width="144.5" height="36.2" fill="rgb(230,34,34)"/>
<rect x="1034" y="1056.7" width="144.5" height="36.2" fill="rgb(33,226,33)"/>
<rect x="889.5" y="1092.3" width="144.5" height="36.2" fill="rgb(234,35,35)"/>
<rect x="1034" y="1092.3" width="144.5" height="36.2" fill="rgb(34,232,34)"/>
<rect x="889.5" y="1127.9" width="144.5" height="36.2" fill="rgb(240,36,36)"/>
<rect x="1034" y="1127.9" width="144.5" height="36.2" fill="rgb(36,238,36)"/>
<rect x="889.5" y="451.5" width="289" height="712" fill="none" stroke="#000" stroke-width="3"/>
<text x="882" y="476" font-size="24.6" text-anchor="end" font-family="'Liberation Serif', 'Times New Roman', serif" >S100A4</text>
<text x="882" y="512.1" font-size="24.6" text-anchor="end" font-family="'Liberation Serif', 'Times New Roman', serif" >GSTT2B</text>
<text x="882" y="548.2" font-size="24.6" text-anchor="end" font-family="'Liberation Serif', 'Times New Roman', serif" >VIM</text>
<text x="882" y="584.3" font-size="24.6" text-anchor="end" font-family="'Liberation Serif', 'Times New Roman', serif" >NNMT</text>
<text x="882" y="620.4" font-size="24.6" text-anchor="end" font-family="'Liberation Serif', 'Times New Roman', serif" >ANPEP</text>
<text x="882" y="656.5" font-size="24.6" text-anchor="end" font-family="'Liberation Serif', 'Times New Roman', serif" >FHL1</text>
<text x="882" y="692.6" font-size="24.6" text-anchor="end" font-family="'Liberation Serif', 'Times New Roman', serif" >SERPINB9</text>
<text x="882" y="728.7" font-size="24.6" text-anchor="end" font-family="'Liberation Serif', 'Times New Roman', serif" >FBXO2</text>
<text x="882" y="764.8" font-size="24.6" text-anchor="end" font-family="'Liberation Serif', 'Times New Roman', serif" >SERPINH1</text>
<text x="882" y="800.9" font-size="24.6" text-anchor="end" font-family="'Liberation Serif', 'Times New Roman', serif" >PLIN4</text>
<text x="882" y="837" font-size="24.6" text-anchor="end" font-family="'Liberation Serif', 'Times New Roman', serif" >CRIP2</text>
<text x="882" y="873.1" font-size="24.6" text-anchor="end" font-family="'Liberation Serif', 'Times New Roman', serif" >ELMO3</text>
<text x="882" y="909.2" font-size="24.6" text-anchor="end" font-family="'Liberation Serif', 'Times New Roman', serif" >ESRP1</text>
<text x="882" y="945.3" font-size="24.6" text-anchor="end" font-family="'Liberation Serif', 'Times New Roman', serif" >MYO1D</text>
<text x="882" y="981.4" font-size="24.6" text-anchor="end" font-family="'Liberation Serif', 'Times New Roman', serif" >AP1M2</text>
<text x="882" y="1017.5" font-size="24.6" text-anchor="end" font-family="'Liberation Serif', 'Times New Roman', serif" >EPCAM</text>
<text x="882" y="1053.6" font-size="24.6" text-anchor="end" font-family="'Liberation Serif', 'Times New Roman', serif" >S100A2</text>
<text x="882" y="1089.7" font-size="24.6" text-anchor="end" font-family="'Liberation Serif', 'Times New Roman', serif" >SNCG</text>
<text x="882" y="1125.8" font-size="24.6" text-anchor="end" font-family="'Liberation Serif', 'Times New Roman', serif" >ANXA8L1</text>
<text x="882" y="1161.9" font-size="24.6" text-anchor="end" font-family="'Liberation Serif', 'Times New Roman', serif" >ANXA8</text>
<rect x="777.5" y="553.5" width="416" height="43.5" fill="none" stroke="#000" stroke-width="2.8"/>
<line x1="962.4" y1="1163.5" x2="962.4" y2="1173" stroke="#000" stroke-width="2" />
<line x1="1107.2" y1="1163.5" x2="1107.2" y2="1173" stroke="#000" stroke-width="2" />
<text x="960.1" y="1209" font-size="30.5" text-anchor="middle" font-family="'Liberation Sans', Arial, sans-serif" >PC9</text>
<text x="1107.4" y="1209" font-size="30.5" text-anchor="middle" font-family="'Liberation Sans', Arial, sans-serif" >PC9/GR</text>
<defs><linearGradient id="cb" x1="0" y1="0" x2="0" y2="1"><stop offset="0" stop-color="#e82a2a"/><stop offset="0.12" stop-color="#d02323"/><stop offset="0.26" stop-color="#8e1414"/><stop offset="0.4" stop-color="#300606"/><stop offset="0.48" stop-color="#000"/><stop offset="0.58" stop-color="#051f05"/><stop offset="0.75" stop-color="#0e700e"/><stop offset="0.9" stop-color="#18c018"/><stop offset="1" stop-color="#22e622"/></linearGradient></defs>
<rect x="1224.5" y="453" width="24" height="274.5" fill="url(#cb)" stroke="#222" stroke-width="1.6"/>
<line x1="1224.5" y1="508.8" x2="1228" y2="508.8" stroke="#555" stroke-width="1.2" />
<line x1="1224.5" y1="586" x2="1228" y2="586" stroke="#555" stroke-width="1.2" />
<line x1="1224.5" y1="663.4" x2="1228" y2="663.4" stroke="#555" stroke-width="1.2" />
<text x="1252.4" y="519" font-size="30" text-anchor="start" font-family="'Liberation Sans', Arial, sans-serif" >1.5</text>
<text x="1252.4" y="596.6" font-size="30" text-anchor="start" font-family="'Liberation Sans', Arial, sans-serif" >1.0</text>
<text x="1252" y="673" font-size="30" text-anchor="start" font-family="'Liberation Sans', Arial, sans-serif" >0.5</text>
<text x="1339.9" y="457.3" font-size="30.5" text-anchor="start" font-family="'Liberation Sans', Arial, sans-serif" >E</text>
<text transform="translate(1491.6,533.9) rotate(-45)" font-size="30.7" font-family="'Liberation Sans', Arial, sans-serif">PC9</text>
<text transform="translate(1600.2,533.9) rotate(-45)" font-size="30.7" font-family="'Liberation Sans', Arial, sans-serif">PC9/GR</text>
<text transform="translate(1720,534.5) rotate(-45)" font-size="30.7" font-family="'Liberation Sans', Arial, sans-serif">HCC827</text>
<text transform="translate(1833.9,534.5) rotate(-45)" font-size="30.7" font-family="'Liberation Sans', Arial, sans-serif">HCC827/GR</text>
<text x="1909.5" y="535.7" font-size="29" text-anchor="start" font-family="'Liberation Sans', Arial, sans-serif" >kDa</text>
<defs><filter id="bl3" x="-30%" y="-60%" width="160%" height="220%"><feGaussianBlur stdDeviation="3"/></filter><filter id="bl2" x="-30%" y="-60%" width="160%" height="220%"><feGaussianBlur stdDeviation="2"/></filter><filter id="bl5" x="-30%" y="-60%" width="160%" height="220%"><feGaussianBlur stdDeviation="5"/></filter><linearGradient id="blotbg" x1="0" y1="0" x2="0" y2="1"><stop offset="0" stop-color="#e9e9e9"/><stop offset="1" stop-color="#e2e2e2"/></linearGradient></defs>
<rect x="1449.5" y="549" width="216.8" height="76.2" fill="#d5d5d5"/>
<rect x="1451.5" y="551" width="212.8" height="72.2" fill="none" stroke="#f4f4f4" stroke-width="1.2"/>
<rect x="1682.5" y="549" width="217.2" height="76.2" fill="#d5d5d5"/>
<rect x="1684.5" y="551" width="213.2" height="72.2" fill="none" stroke="#f4f4f4" stroke-width="1.2"/>
<rect x="1449.5" y="637.4" width="216.8" height="76.4" fill="#d5d5d5"/>
<rect x="1451.5" y="639.4" width="212.8" height="72.4" fill="none" stroke="#f4f4f4" stroke-width="1.2"/>
<rect x="1682.5" y="636.7" width="217.2" height="75.8" fill="#d5d5d5"/>
<rect x="1684.5" y="638.7" width="213.2" height="71.8" fill="none" stroke="#f4f4f4" stroke-width="1.2"/>
<defs><filter id="pb2_2" filterUnits="userSpaceOnUse" x="1300" y="500" width="663" height="250"><feGaussianBlur stdDeviation="2.2"/></filter><filter id="pb3" filterUnits="userSpaceOnUse" x="1300" y="500" width="663" height="250"><feGaussianBlur stdDeviation="3"/></filter><filter id="pb4" filterUnits="userSpaceOnUse" x="1300" y="500" width="663" height="250"><feGaussianBlur stdDeviation="4"/></filter></defs>
<line x1="1470" y1="595" x2="1478" y2="594" stroke="#a8a8a8" stroke-width="12" stroke-linecap="round" opacity="0.9" filter="url(#pb3)"/>
<line x1="1485" y1="595" x2="1500" y2="596" stroke="#8a8a8a" stroke-width="13" stroke-linecap="round" opacity="0.9" filter="url(#pb3)"/>
<line x1="1505" y1="594" x2="1520" y2="594" stroke="#707070" stroke-width="14" stroke-linecap="round" opacity="0.9" filter="url(#pb3)"/>
<line x1="1527" y1="593" x2="1533" y2="593" stroke="#252525" stroke-width="19" stroke-linecap="round" opacity="1" filter="url(#pb2_2)"/>
<line x1="1588" y1="589" x2="1596" y2="589" stroke="#0e0e0e" stroke-width="29" stroke-linecap="round" opacity="1" filter="url(#pb2_2)"/>
<line x1="1637" y1="590.5" x2="1645" y2="590.5" stroke="#0e0e0e" stroke-width="29" stroke-linecap="round" opacity="1" filter="url(#pb2_2)"/>
<line x1="1590" y1="589.5" x2="1643" y2="590.5" stroke="#0e0e0e" stroke-width="23" stroke-linecap="round" opacity="1" filter="url(#pb2_2)"/>
<line x1="1706" y1="595.5" x2="1724" y2="595.5" stroke="#8c8c8c" stroke-width="17" stroke-linecap="round" opacity="0.85" filter="url(#pb3)"/>
<line x1="1745" y1="595.5" x2="1755" y2="595.5" stroke="#959595" stroke-width="16" stroke-linecap="round" opacity="0.8" filter="url(#pb3)"/>
<line x1="1812" y1="590" x2="1878" y2="585" stroke="#0e0e0e" stroke-width="31" stroke-linecap="round" opacity="1" filter="url(#pb2_2)"/>
<line x1="1465" y1="682" x2="1533" y2="678" stroke="#0e0e0e" stroke-width="24" stroke-linecap="round" opacity="1" filter="url(#pb2_2)"/>
<line x1="1576" y1="676" x2="1650" y2="673" stroke="#0e0e0e" stroke-width="24" stroke-linecap="round" opacity="1" filter="url(#pb2_2)"/>
<line x1="1701" y1="678" x2="1769" y2="673" stroke="#0e0e0e" stroke-width="23" stroke-linecap="round" opacity="1" filter="url(#pb2_2)"/>
<line x1="1810" y1="669.5" x2="1878" y2="657" stroke="#0e0e0e" stroke-width="27" stroke-linecap="round" opacity="1" filter="url(#pb2_2)"/>
<line x1="1865" y1="657" x2="1876" y2="655" stroke="#0e0e0e" stroke-width="27" stroke-linecap="round" opacity="1" filter="url(#pb2_2)"/>
<rect x="1449.5" y="549" width="216.8" height="76.2" fill="none" stroke="#000" stroke-width="2.4"/>
<rect x="1682.5" y="549" width="217.2" height="76.2" fill="none" stroke="#000" stroke-width="2.4"/>
<rect x="1449.5" y="637.4" width="216.8" height="76.4" fill="none" stroke="#000" stroke-width="2.4"/>
<rect x="1682.5" y="636.7" width="217.2" height="75.8" fill="none" stroke="#000" stroke-width="2.4"/>
<text x="1345.9" y="598.3" font-size="31" text-anchor="start" font-family="'Liberation Sans', Arial, sans-serif" >NNMT</text>
<text x="1339" y="686" font-size="31" font-family="'Liberation Sans', Arial, sans-serif"><tspan font-family="'Liberation Serif', serif">β</tspan>-Actin</text>
<line x1="1899.8" y1="608.6" x2="1912" y2="608.6" stroke="#000" stroke-width="2.2" />
<line x1="1899.8" y1="704.6" x2="1912" y2="704.6" stroke="#000" stroke-width="2.2" />
<text x="1919" y="619.7" font-size="30.5" text-anchor="start" font-family="'Liberation Sans', Arial, sans-serif" >25</text>
<text x="1920.3" y="716.6" font-size="30.5" text-anchor="start" font-family="'Liberation Sans', Arial, sans-serif" >35</text>
<text x="1387.6" y="773" font-size="31" text-anchor="start" font-family="'Liberation Sans', Arial, sans-serif" >F</text>
<line x1="1571" y1="985.4" x2="1571" y2="972.3" stroke="#7a6cff" stroke-width="1.4" />
<line x1="1561.5" y1="972.3" x2="1581" y2="972.3" stroke="#7a6cff" stroke-width="1.8" />
<rect x="1550.8" y="985.4" width="40.5" height="75.6" fill="#0202ee"/>
<line x1="1634.8" y1="849.4" x2="1634.8" y2="821.6" stroke="#e04040" stroke-width="1.4" />
<line x1="1624" y1="821.6" x2="1644.2" y2="821.6" stroke="#e04040" stroke-width="1.8" />
<rect x="1614" y="849.4" width="41.7" height="211.6" fill="#fb0000"/>
<line x1="1696.8" y1="991.4" x2="1696.8" y2="978.3" stroke="#58e858" stroke-width="1.4" />
<line x1="1682" y1="978.3" x2="1707" y2="978.3" stroke="#58e858" stroke-width="1.8" />
<rect x="1676" y="991.4" width="41.7" height="69.6" fill="#04ee04"/>
<line x1="1759.8" y1="872.8" x2="1759.8" y2="855.4" stroke="#cc44dd" stroke-width="1.4" />
<line x1="1750" y1="855.4" x2="1769.5" y2="855.4" stroke="#cc44dd" stroke-width="1.8" />
<rect x="1739.2" y="872.8" width="41.3" height="188.2" fill="#e600f2"/>
<line x1="1529.5" y1="788" x2="1529.5" y2="1062.2" stroke="#000" stroke-width="2.6" />
<line x1="1528.3" y1="1061" x2="1804" y2="1061" stroke="#000" stroke-width="2.6" />
<line x1="1519" y1="1061" x2="1529.5" y2="1061" stroke="#000" stroke-width="2.4" />
<text x="1514.5" y="1071.3" font-size="29.5" text-anchor="end" font-family="'Liberation Sans', Arial, sans-serif" >0</text>
<line x1="1519" y1="1006.6" x2="1529.5" y2="1006.6" stroke="#000" stroke-width="2.4" />
<text x="1514.5" y="1016.9" font-size="29.5" text-anchor="end" font-family="'Liberation Sans', Arial, sans-serif" >5</text>
<line x1="1519" y1="952.2" x2="1529.5" y2="952.2" stroke="#000" stroke-width="2.4" />
<text x="1514.5" y="962.5" font-size="29.5" text-anchor="end" font-family="'Liberation Sans', Arial, sans-serif" >10</text>
<line x1="1519" y1="897.8" x2="1529.5" y2="897.8" stroke="#000" stroke-width="2.4" />
<text x="1514.5" y="908.1" font-size="29.5" text-anchor="end" font-family="'Liberation Sans', Arial, sans-serif" >15</text>
<line x1="1519" y1="843.4" x2="1529.5" y2="843.4" stroke="#000" stroke-width="2.4" />
<text x="1514.5" y="853.7" font-size="29.5" text-anchor="end" font-family="'Liberation Sans', Arial, sans-serif" >20</text>
<line x1="1519" y1="789" x2="1529.5" y2="789" stroke="#000" stroke-width="2.4" />
<text x="1514.5" y="799.3" font-size="29.5" text-anchor="end" font-family="'Liberation Sans', Arial, sans-serif" >25</text>
<line x1="1571.2" y1="1061" x2="1571.2" y2="1071.7" stroke="#000" stroke-width="2.4" />
<line x1="1633.5" y1="1061" x2="1633.5" y2="1071.7" stroke="#000" stroke-width="2.4" />
<line x1="1696.5" y1="1061" x2="1696.5" y2="1071.7" stroke="#000" stroke-width="2.4" />
<line x1="1760" y1="1061" x2="1760" y2="1071.7" stroke="#000" stroke-width="2.4" />
<text x="1636" y="818.6" font-size="24" text-anchor="middle" font-family="'Liberation Sans', Arial, sans-serif" letter-spacing="2.8">**</text>
<text x="1762.7" y="853.4" font-size="24" text-anchor="middle" font-family="'Liberation Sans', Arial, sans-serif" letter-spacing="2.8">**</text>
<text transform="translate(1465.8,919.2) rotate(-90)" font-size="30" text-anchor="middle" font-family="'Liberation Sans', Arial, sans-serif">NNMT activity (U/mg)</text>
<text transform="translate(1541,1137) rotate(-45)" font-size="29.5" font-family="'Liberation Sans', Arial, sans-serif">PC9</text>
<text transform="translate(1565.7,1175.3) rotate(-45)" font-size="29.5" font-family="'Liberation Sans', Arial, sans-serif">PC9/GR</text>
<text transform="translate(1626.2,1178) rotate(-45)" font-size="29.5" font-family="'Liberation Sans', Arial, sans-serif">HCC827</text>
<text transform="translate(1650.9,1215.1) rotate(-45)" font-size="29.5" font-family="'Liberation Sans', Arial, sans-serif">HCC827/GR</text>
</svg>
</body></html>
